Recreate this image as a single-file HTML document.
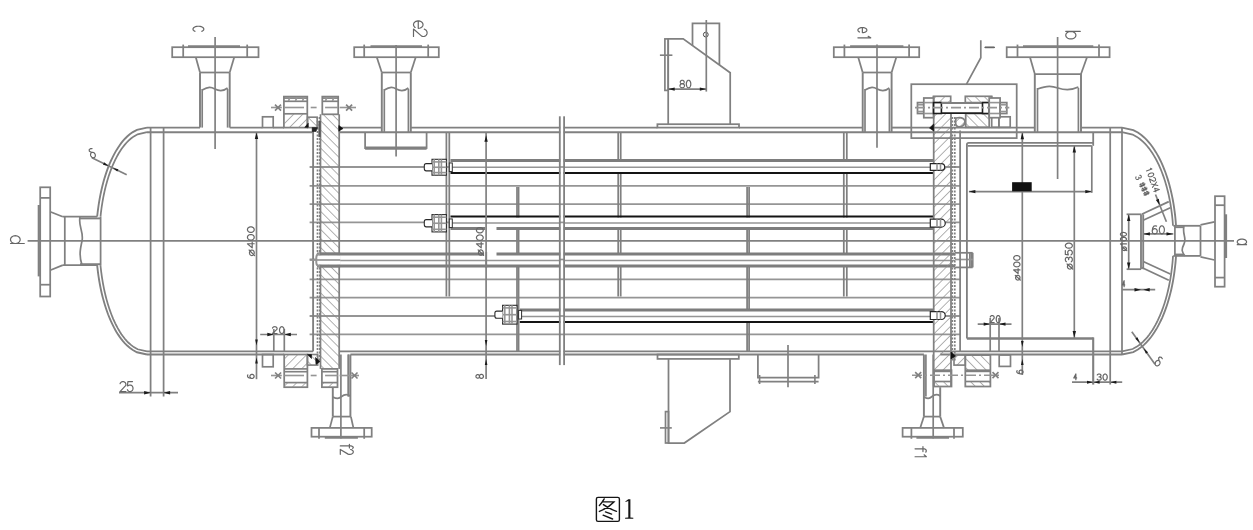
<!DOCTYPE html>
<html><head><meta charset="utf-8"><title>Figure 1</title>
<style>html,body{margin:0;padding:0;background:#fff;width:1253px;height:530px;overflow:hidden}svg{display:block}</style>
</head><body>
<svg width="1253" height="530" viewBox="0 0 1253 530" font-family="Liberation Sans, sans-serif"><defs>
<pattern id="hb" width="6.4" height="6.4" patternUnits="userSpaceOnUse" patternTransform="rotate(-45)"><line x1="0" y1="0" x2="0" y2="6.4" stroke="#8a8a8a" stroke-width="1.3"/></pattern>
<pattern id="hf" width="6.4" height="6.4" patternUnits="userSpaceOnUse" patternTransform="rotate(45)"><line x1="0" y1="0" x2="0" y2="6.4" stroke="#8a8a8a" stroke-width="1.3"/></pattern>
</defs><g><rect x="172.2" y="47.2" width="86.3" height="10" stroke="#808080" stroke-width="1.75" fill="none"/>
<line x1="183.2" y1="44.6" x2="183.2" y2="57.2" stroke="#808080" stroke-width="1.75"/>
<line x1="247.2" y1="44.6" x2="247.2" y2="57.2" stroke="#808080" stroke-width="1.75"/>
<line x1="188" y1="46.3" x2="240" y2="46.3" stroke="#808080" stroke-width="2.23"/>
<line x1="195.8" y1="57.2" x2="200" y2="72.5" stroke="#808080" stroke-width="1.75"/>
<line x1="234.2" y1="57.2" x2="229.7" y2="72.5" stroke="#808080" stroke-width="1.75"/>
<line x1="200" y1="72.5" x2="229.7" y2="72.5" stroke="#808080" stroke-width="1.75"/>
<line x1="200" y1="72.5" x2="200" y2="127.6" stroke="#808080" stroke-width="1.93"/>
<line x1="229.7" y1="72.5" x2="229.7" y2="127.6" stroke="#808080" stroke-width="1.93"/>
<line x1="202.2" y1="89" x2="202.2" y2="127.6" stroke="#808080" stroke-width="1.69"/>
<line x1="227.6" y1="89" x2="227.6" y2="127.6" stroke="#808080" stroke-width="1.69"/>
<path d="M202.2,90 C208.55,86.5 211.09,87 214.9,89 S222.52,92 227.6,88" stroke="#808080" stroke-width="1.69" fill="none"/>
<line x1="215.1" y1="37" x2="215.1" y2="148.9" stroke="#808080" stroke-width="1.69"/>
<rect x="354.2" y="47.2" width="84.6" height="10" stroke="#808080" stroke-width="1.75" fill="none"/>
<line x1="364.2" y1="44.6" x2="364.2" y2="57.2" stroke="#808080" stroke-width="1.75"/>
<line x1="428.2" y1="44.6" x2="428.2" y2="57.2" stroke="#808080" stroke-width="1.75"/>
<line x1="370.5" y1="46.3" x2="422" y2="46.3" stroke="#808080" stroke-width="2.23"/>
<line x1="376.8" y1="57.2" x2="381.8" y2="72.5" stroke="#808080" stroke-width="1.75"/>
<line x1="415.7" y1="57.2" x2="410.8" y2="72.5" stroke="#808080" stroke-width="1.75"/>
<line x1="381.8" y1="72.5" x2="410.8" y2="72.5" stroke="#808080" stroke-width="1.75"/>
<line x1="381.8" y1="72.5" x2="381.8" y2="132.2" stroke="#808080" stroke-width="1.93"/>
<line x1="410.8" y1="72.5" x2="410.8" y2="132.2" stroke="#808080" stroke-width="1.93"/>
<line x1="384.3" y1="89" x2="384.3" y2="132.2" stroke="#808080" stroke-width="1.69"/>
<line x1="408.4" y1="89" x2="408.4" y2="132.2" stroke="#808080" stroke-width="1.69"/>
<path d="M384.3,90 C390.33,86.5 392.74,87 396.35,89 S403.58,92 408.4,88" stroke="#808080" stroke-width="1.69" fill="none"/>
<line x1="396.1" y1="45" x2="396.1" y2="156.4" stroke="#808080" stroke-width="1.69"/>
<rect x="833.8" y="47.2" width="85.4" height="10" stroke="#808080" stroke-width="1.75" fill="none"/>
<line x1="844.4" y1="44.6" x2="844.4" y2="57.2" stroke="#808080" stroke-width="1.75"/>
<line x1="909.1" y1="44.6" x2="909.1" y2="57.2" stroke="#808080" stroke-width="1.75"/>
<line x1="850.1" y1="46.3" x2="903.4" y2="46.3" stroke="#808080" stroke-width="2.23"/>
<line x1="858.2" y1="57.2" x2="862.7" y2="72.5" stroke="#808080" stroke-width="1.75"/>
<line x1="896.3" y1="57.2" x2="891.6" y2="72.5" stroke="#808080" stroke-width="1.75"/>
<line x1="862.7" y1="72.5" x2="891.6" y2="72.5" stroke="#808080" stroke-width="1.75"/>
<line x1="862.7" y1="72.5" x2="862.7" y2="132.2" stroke="#808080" stroke-width="1.93"/>
<line x1="891.6" y1="72.5" x2="891.6" y2="132.2" stroke="#808080" stroke-width="1.93"/>
<line x1="865" y1="89" x2="865" y2="132.2" stroke="#808080" stroke-width="1.69"/>
<line x1="889.4" y1="89" x2="889.4" y2="132.2" stroke="#808080" stroke-width="1.69"/>
<path d="M865,90 C871.1,86.5 873.54,87 877.2,89 S884.52,92 889.4,88" stroke="#808080" stroke-width="1.69" fill="none"/>
<line x1="877" y1="44.5" x2="877" y2="147.8" stroke="#808080" stroke-width="1.69"/>
<rect x="1006.7" y="47.2" width="102.9" height="10" stroke="#808080" stroke-width="1.75" fill="none"/>
<line x1="1017.5" y1="44.6" x2="1017.5" y2="57.2" stroke="#808080" stroke-width="1.75"/>
<line x1="1099" y1="44.6" x2="1099" y2="57.2" stroke="#808080" stroke-width="1.75"/>
<line x1="1023" y1="46.3" x2="1093.3" y2="46.3" stroke="#808080" stroke-width="2.23"/>
<line x1="1030" y1="57.2" x2="1034.8" y2="74" stroke="#808080" stroke-width="1.75"/>
<line x1="1087" y1="57.2" x2="1081" y2="74" stroke="#808080" stroke-width="1.75"/>
<line x1="1034.8" y1="74" x2="1081" y2="74" stroke="#808080" stroke-width="1.75"/>
<line x1="1034.8" y1="74" x2="1034.8" y2="132.2" stroke="#808080" stroke-width="1.93"/>
<line x1="1081" y1="74" x2="1081" y2="132.2" stroke="#808080" stroke-width="1.93"/>
<line x1="1037.5" y1="88" x2="1037.5" y2="132.2" stroke="#808080" stroke-width="1.69"/>
<line x1="1078.4" y1="88" x2="1078.4" y2="132.2" stroke="#808080" stroke-width="1.69"/>
<path d="M1037.5,89 C1047.72,85.5 1051.82,86 1057.95,88 S1070.22,91 1078.4,87" stroke="#808080" stroke-width="1.69" fill="none"/>
<line x1="1057.6" y1="37" x2="1057.6" y2="179" stroke="#808080" stroke-width="1.69"/>
<line x1="365.1" y1="132.2" x2="365.1" y2="148.9" stroke="#808080" stroke-width="1.75"/>
<line x1="426.6" y1="132.2" x2="426.6" y2="148.9" stroke="#808080" stroke-width="1.75"/>
<line x1="365.1" y1="147.4" x2="426.6" y2="147.4" stroke="#808080" stroke-width="1.63"/>
<line x1="365.1" y1="148.9" x2="426.6" y2="148.9" stroke="#808080" stroke-width="1.69"/>
<rect x="311.5" y="427.9" width="60.2" height="8.8" stroke="#808080" stroke-width="1.75" fill="none"/>
<line x1="319" y1="427.9" x2="319" y2="438.8" stroke="#808080" stroke-width="1.75"/>
<line x1="364.2" y1="427.9" x2="364.2" y2="438.8" stroke="#808080" stroke-width="1.75"/>
<line x1="324.8" y1="437.6" x2="357.9" y2="437.6" stroke="#808080" stroke-width="2.11"/>
<line x1="332.8" y1="416.6" x2="329.8" y2="427.9" stroke="#808080" stroke-width="1.75"/>
<line x1="350.9" y1="416.6" x2="353.4" y2="427.9" stroke="#808080" stroke-width="1.75"/>
<line x1="332.8" y1="416.6" x2="350.9" y2="416.6" stroke="#808080" stroke-width="1.75"/>
<line x1="350.4" y1="354.5" x2="350.4" y2="416.6" stroke="#808080" stroke-width="1.93"/>
<line x1="348.4" y1="354.5" x2="348.4" y2="396.5" stroke="#808080" stroke-width="1.69"/>
<line x1="332.8" y1="387.2" x2="332.8" y2="416.6" stroke="#808080" stroke-width="1.93"/>
<path d="M332.8,397 C336.8,399 338.6,399 341.6,396.5 S347.4,394 350.4,396" stroke="#808080" stroke-width="1.69" fill="none"/>
<line x1="340.9" y1="354.5" x2="340.9" y2="438.5" stroke="#808080" stroke-width="1.69"/>
<rect x="902.6" y="427.9" width="60.2" height="8.8" stroke="#808080" stroke-width="1.75" fill="none"/>
<line x1="911.4" y1="427.9" x2="911.4" y2="438.8" stroke="#808080" stroke-width="1.75"/>
<line x1="954" y1="427.9" x2="954" y2="438.8" stroke="#808080" stroke-width="1.75"/>
<line x1="916.4" y1="437.6" x2="949" y2="437.6" stroke="#808080" stroke-width="2.11"/>
<line x1="923.9" y1="416.6" x2="920.2" y2="427.9" stroke="#808080" stroke-width="1.75"/>
<line x1="940.2" y1="416.6" x2="944" y2="427.9" stroke="#808080" stroke-width="1.75"/>
<line x1="923.9" y1="416.6" x2="940.2" y2="416.6" stroke="#808080" stroke-width="1.75"/>
<line x1="923.9" y1="354.5" x2="923.9" y2="416.6" stroke="#808080" stroke-width="1.93"/>
<line x1="925.9" y1="354.5" x2="925.9" y2="396.5" stroke="#808080" stroke-width="1.69"/>
<line x1="940.2" y1="387.2" x2="940.2" y2="416.6" stroke="#808080" stroke-width="1.93"/>
<path d="M923.9,397 C927.9,399 929.05,399 932.05,396.5 S937.2,394 940.2,396" stroke="#808080" stroke-width="1.69" fill="none"/>
<line x1="933.2" y1="354.5" x2="933.2" y2="438.5" stroke="#808080" stroke-width="1.69"/>
<line x1="348.4" y1="354.5" x2="348.4" y2="396.5" stroke="#808080" stroke-width="1.69"/>
<line x1="147" y1="127.6" x2="200" y2="127.6" stroke="#808080" stroke-width="1.87"/>
<line x1="229.7" y1="127.6" x2="262.4" y2="127.6" stroke="#808080" stroke-width="1.87"/>
<line x1="273.3" y1="127.6" x2="283.9" y2="127.6" stroke="#808080" stroke-width="1.87"/>
<line x1="338.2" y1="127.6" x2="381.8" y2="127.6" stroke="#808080" stroke-width="1.87"/>
<line x1="410.8" y1="127.6" x2="657.4" y2="127.6" stroke="#808080" stroke-width="1.87"/>
<line x1="739" y1="127.6" x2="862.7" y2="127.6" stroke="#808080" stroke-width="1.87"/>
<line x1="891.6" y1="127.6" x2="911.3" y2="127.6" stroke="#808080" stroke-width="1.87"/>
<line x1="911.3" y1="127.6" x2="1034.8" y2="127.6" stroke="#808080" stroke-width="1.87"/>
<line x1="1081" y1="127.6" x2="1122" y2="127.6" stroke="#808080" stroke-width="1.87"/>
<line x1="147" y1="132.2" x2="313" y2="132.2" stroke="#808080" stroke-width="1.87"/>
<line x1="339.2" y1="132.2" x2="1122" y2="132.2" stroke="#808080" stroke-width="1.87"/>
<line x1="147" y1="351.4" x2="313" y2="351.4" stroke="#808080" stroke-width="1.87"/>
<line x1="339.2" y1="351.4" x2="960.1" y2="351.4" stroke="#808080" stroke-width="1.87"/>
<line x1="960.1" y1="351.4" x2="1122" y2="351.4" stroke="#808080" stroke-width="1.87"/>
<line x1="147" y1="354.5" x2="284.2" y2="354.5" stroke="#808080" stroke-width="1.87"/>
<line x1="350.4" y1="354.5" x2="923.9" y2="354.5" stroke="#808080" stroke-width="1.87"/>
<line x1="940.2" y1="354.5" x2="1122" y2="354.5" stroke="#808080" stroke-width="1.87"/>
<path d="M147,127.6 L136.94,129.83 L132.84,132.06 L129.74,134.28 L127.18,136.51 L124.95,138.74 L122.97,140.97 L121.18,143.19 L119.54,145.42 L118.03,147.65 L116.63,149.88 L115.32,152.1 L114.1,154.33 L112.95,156.56 L111.86,158.78 L110.84,161.01 L109.87,163.24 L108.95,165.47 L108.07,167.69 L107.25,169.92 L106.46,172.15 L105.72,174.38 L105.01,176.6 L104.33,178.83 L103.69,181.06 L103.09,183.29 L102.51,185.51 L101.96,187.74 L101.44,189.97 L100.95,192.2 L100.49,194.43 L100.05,196.65 L99.64,198.88 L99.25,201.11 L98.88,203.33 L98.54,205.56 L98.23,207.79 L97.93,210.02 L97.66,212.25 L97.41,214.47 L97.18,216.7" stroke="#808080" stroke-width="1.87" fill="none"/>
<path d="M147,132.2 L137.64,134.31 L133.83,136.42 L130.95,138.54 L128.56,140.65 L126.49,142.76 L124.65,144.88 L122.98,146.99 L121.46,149.1 L120.05,151.21 L118.74,153.32 L117.52,155.44 L116.38,157.55 L115.31,159.66 L114.29,161.77 L113.34,163.89 L112.43,166 L111.57,168.11 L110.76,170.22 L109.99,172.34 L109.25,174.45 L108.55,176.56 L107.89,178.67 L107.26,180.79 L106.66,182.9 L106.09,185.01 L105.55,187.12 L105.03,189.24 L104.54,191.35 L104.08,193.46 L103.64,195.57 L103.23,197.69 L102.84,199.8 L102.47,201.91 L102.13,204.02 L101.8,206.14 L101.5,208.25 L101.22,210.36 L100.96,212.47 L100.72,214.59 L100.5,216.7" stroke="#808080" stroke-width="1.75" fill="none"/>
<path d="M147,354.5 L136.93,352.26 L132.83,350.03 L129.74,347.8 L127.17,345.56 L124.94,343.32 L122.96,341.09 L121.17,338.86 L119.53,336.62 L118.02,334.38 L116.62,332.15 L115.31,329.92 L114.09,327.68 L112.94,325.44 L111.85,323.21 L110.82,320.98 L109.85,318.74 L108.94,316.5 L108.06,314.27 L107.24,312.04 L106.45,309.8 L105.71,307.56 L105,305.33 L104.32,303.1 L103.68,300.86 L103.08,298.62 L102.5,296.39 L101.95,294.16 L101.43,291.92 L100.94,289.69 L100.48,287.45 L100.04,285.22 L99.63,282.98 L99.24,280.75 L98.88,278.51 L98.54,276.28 L98.22,274.04 L97.92,271.81 L97.65,269.57 L97.4,267.34 L97.17,265.1" stroke="#808080" stroke-width="1.87" fill="none"/>
<path d="M147,351.4 L137.62,349.24 L133.8,347.08 L130.91,344.93 L128.52,342.77 L126.44,340.61 L124.6,338.45 L122.93,336.3 L121.4,334.14 L119.99,331.98 L118.68,329.82 L117.46,327.67 L116.32,325.51 L115.24,323.35 L114.23,321.19 L113.27,319.04 L112.37,316.88 L111.51,314.72 L110.69,312.56 L109.92,310.41 L109.18,308.25 L108.49,306.09 L107.82,303.94 L107.19,301.78 L106.59,299.62 L106.02,297.46 L105.48,295.31 L104.97,293.15 L104.48,290.99 L104.02,288.83 L103.59,286.68 L103.17,284.52 L102.78,282.36 L102.42,280.2 L102.08,278.05 L101.75,275.89 L101.45,273.73 L101.17,271.57 L100.92,269.42 L100.68,267.26 L100.46,265.1" stroke="#808080" stroke-width="1.75" fill="none"/>
<path d="M1122,127.6 L1133.28,130.06 L1137.87,132.51 L1141.33,134.97 L1144.19,137.42 L1146.67,139.88 L1148.87,142.33 L1150.86,144.78 L1152.67,147.24 L1154.33,149.69 L1155.88,152.15 L1157.32,154.6 L1158.66,157.06 L1159.92,159.51 L1161.1,161.97 L1162.21,164.43 L1163.26,166.88 L1164.25,169.34 L1165.19,171.79 L1166.07,174.25 L1166.91,176.7 L1167.7,179.16 L1168.44,181.61 L1169.15,184.06 L1169.81,186.52 L1170.44,188.98 L1171.03,191.43 L1171.59,193.88 L1172.11,196.34 L1172.6,198.8 L1173.05,201.25 L1173.48,203.71 L1173.87,206.16 L1174.24,208.62 L1174.58,211.07 L1174.89,213.53 L1175.17,215.98 L1175.42,218.44 L1175.64,220.89 L1175.84,223.35 L1176.01,225.8" stroke="#808080" stroke-width="1.87" fill="none"/>
<path d="M1122,132.2 L1132.63,134.54 L1136.95,136.88 L1140.21,139.22 L1142.91,141.56 L1145.24,143.9 L1147.32,146.24 L1149.19,148.58 L1150.89,150.92 L1152.47,153.26 L1153.92,155.6 L1155.28,157.94 L1156.54,160.28 L1157.73,162.62 L1158.85,164.96 L1159.9,167.3 L1160.89,169.64 L1161.83,171.98 L1162.71,174.32 L1163.54,176.66 L1164.33,179 L1165.08,181.34 L1165.79,183.68 L1166.45,186.02 L1167.08,188.36 L1167.68,190.7 L1168.24,193.04 L1168.77,195.38 L1169.26,197.72 L1169.73,200.06 L1170.16,202.4 L1170.57,204.74 L1170.94,207.08 L1171.29,209.42 L1171.61,211.76 L1171.91,214.1 L1172.18,216.44 L1172.42,218.78 L1172.64,221.12 L1172.83,223.46 L1173,225.8" stroke="#808080" stroke-width="1.75" fill="none"/>
<path d="M1122,354.5 L1133.29,352.04 L1137.88,349.57 L1141.34,347.11 L1144.21,344.64 L1146.69,342.18 L1148.89,339.71 L1150.88,337.25 L1152.69,334.78 L1154.35,332.31 L1155.9,329.85 L1157.34,327.38 L1158.68,324.92 L1159.94,322.45 L1161.12,319.99 L1162.24,317.52 L1163.28,315.06 L1164.27,312.6 L1165.21,310.13 L1166.09,307.67 L1166.93,305.2 L1167.72,302.74 L1168.46,300.27 L1169.17,297.81 L1169.83,295.34 L1170.46,292.88 L1171.05,290.41 L1171.61,287.94 L1172.13,285.48 L1172.62,283.01 L1173.07,280.55 L1173.5,278.09 L1173.89,275.62 L1174.26,273.15 L1174.59,270.69 L1174.9,268.23 L1175.18,265.76 L1175.43,263.3 L1175.65,260.83 L1175.85,258.37 L1176.02,255.9" stroke="#808080" stroke-width="1.87" fill="none"/>
<path d="M1122,351.4 L1132.65,349.01 L1136.98,346.62 L1140.24,344.24 L1142.94,341.85 L1145.28,339.46 L1147.36,337.07 L1149.23,334.69 L1150.94,332.3 L1152.52,329.91 L1153.97,327.52 L1155.33,325.14 L1156.6,322.75 L1157.79,320.36 L1158.9,317.97 L1159.95,315.59 L1160.95,313.2 L1161.88,310.81 L1162.77,308.43 L1163.6,306.04 L1164.39,303.65 L1165.14,301.26 L1165.84,298.88 L1166.51,296.49 L1167.14,294.1 L1167.73,291.71 L1168.29,289.32 L1168.82,286.94 L1169.31,284.55 L1169.77,282.16 L1170.21,279.77 L1170.61,277.39 L1170.99,275 L1171.33,272.61 L1171.65,270.23 L1171.95,267.84 L1172.21,265.45 L1172.45,263.06 L1172.67,260.68 L1172.86,258.29 L1173.02,255.9" stroke="#808080" stroke-width="1.75" fill="none"/>
<line x1="150.6" y1="127.6" x2="150.6" y2="396.5" stroke="#808080" stroke-width="1.75"/>
<line x1="163.6" y1="127.6" x2="163.6" y2="396.5" stroke="#808080" stroke-width="1.75"/>
<line x1="1110.2" y1="127.6" x2="1110.2" y2="384.5" stroke="#808080" stroke-width="1.75"/>
<line x1="1122" y1="127.6" x2="1122" y2="354.5" stroke="#808080" stroke-width="1.75"/>
<line x1="27.6" y1="240.9" x2="1234" y2="240.9" stroke="#808080" stroke-width="1.69"/>
<rect x="40.2" y="187.3" width="10" height="109.2" stroke="#808080" stroke-width="1.75" fill="none"/>
<line x1="40.2" y1="197.9" x2="50.2" y2="197.9" stroke="#808080" stroke-width="1.75"/>
<line x1="40.2" y1="284.7" x2="50.2" y2="284.7" stroke="#808080" stroke-width="1.75"/>
<line x1="38.8" y1="205" x2="38.8" y2="276.4" stroke="#808080" stroke-width="2.23"/>
<line x1="50.2" y1="211.7" x2="62.8" y2="216.7" stroke="#808080" stroke-width="1.75"/>
<line x1="50.2" y1="270.2" x2="62.8" y2="265.1" stroke="#808080" stroke-width="1.75"/>
<line x1="62.8" y1="216.7" x2="97" y2="216.7" stroke="#808080" stroke-width="1.81"/>
<line x1="62.8" y1="265.1" x2="97" y2="265.1" stroke="#808080" stroke-width="1.81"/>
<line x1="64.8" y1="216.7" x2="64.8" y2="265.1" stroke="#808080" stroke-width="1.75"/>
<line x1="100.6" y1="216.7" x2="100.6" y2="265.1" stroke="#808080" stroke-width="1.75"/>
<line x1="80" y1="218.4" x2="100.6" y2="218.4" stroke="#808080" stroke-width="1.93"/>
<line x1="80" y1="264.2" x2="100.6" y2="264.2" stroke="#808080" stroke-width="1.93"/>
<path d="M80,217 C78,226 84,232 82,241 S79,256 82,265" stroke="#808080" stroke-width="1.69" fill="none"/>
<rect x="1215" y="196.2" width="9.6" height="90.5" stroke="#808080" stroke-width="1.75" fill="none"/>
<line x1="1215" y1="205.2" x2="1224.6" y2="205.2" stroke="#808080" stroke-width="1.75"/>
<line x1="1215" y1="277.6" x2="1224.6" y2="277.6" stroke="#808080" stroke-width="1.75"/>
<line x1="1226" y1="214.3" x2="1226" y2="258" stroke="#808080" stroke-width="2.23"/>
<line x1="1200.5" y1="224.9" x2="1214.5" y2="221.8" stroke="#808080" stroke-width="1.75"/>
<line x1="1200.5" y1="256.9" x2="1214.5" y2="260" stroke="#808080" stroke-width="1.75"/>
<line x1="1173.3" y1="225.8" x2="1200.5" y2="225.8" stroke="#808080" stroke-width="1.81"/>
<line x1="1173.3" y1="255.9" x2="1200.5" y2="255.9" stroke="#808080" stroke-width="1.81"/>
<line x1="1200.5" y1="225.8" x2="1200.5" y2="255.9" stroke="#808080" stroke-width="1.75"/>
<line x1="1174.9" y1="225.8" x2="1174.9" y2="255.9" stroke="#808080" stroke-width="1.75"/>
<line x1="1174.9" y1="227.2" x2="1184" y2="227.2" stroke="#808080" stroke-width="1.87"/>
<line x1="1174.9" y1="254.5" x2="1184" y2="254.5" stroke="#808080" stroke-width="1.87"/>
<path d="M1184,226 C1182,234 1187,238 1184,244 S1182,252 1185,256" stroke="#808080" stroke-width="1.69" fill="none"/>
<line x1="309.6" y1="167" x2="960.5" y2="167" stroke="#959595" stroke-width="1.81"/>
<line x1="309.6" y1="185.8" x2="960.5" y2="185.8" stroke="#959595" stroke-width="1.81"/>
<line x1="309.6" y1="204.2" x2="960.5" y2="204.2" stroke="#959595" stroke-width="1.81"/>
<line x1="309.6" y1="222.4" x2="960.5" y2="222.4" stroke="#959595" stroke-width="1.81"/>
<line x1="309.6" y1="259.5" x2="960.5" y2="259.5" stroke="#959595" stroke-width="1.81"/>
<line x1="309.6" y1="279.3" x2="960.5" y2="279.3" stroke="#959595" stroke-width="1.81"/>
<line x1="309.6" y1="297.7" x2="960.5" y2="297.7" stroke="#959595" stroke-width="1.81"/>
<line x1="309.6" y1="316" x2="960.5" y2="316" stroke="#959595" stroke-width="1.81"/>
<line x1="309.6" y1="334.4" x2="960.5" y2="334.4" stroke="#959595" stroke-width="1.81"/>
<line x1="446.4" y1="132.2" x2="446.4" y2="296.5" stroke="#808080" stroke-width="1.75"/>
<line x1="449.3" y1="132.2" x2="449.3" y2="296.5" stroke="#808080" stroke-width="1.75"/>
<line x1="517" y1="187" x2="517" y2="351.4" stroke="#808080" stroke-width="1.75"/>
<line x1="518.6" y1="187" x2="518.6" y2="351.4" stroke="#808080" stroke-width="1.75"/>
<line x1="618.2" y1="132.2" x2="618.2" y2="296.5" stroke="#808080" stroke-width="1.75"/>
<line x1="620.7" y1="132.2" x2="620.7" y2="296.5" stroke="#808080" stroke-width="1.75"/>
<line x1="747.1" y1="187" x2="747.1" y2="351.4" stroke="#808080" stroke-width="1.75"/>
<line x1="749.1" y1="187" x2="749.1" y2="351.4" stroke="#808080" stroke-width="1.75"/>
<line x1="843.8" y1="132.2" x2="843.8" y2="296.5" stroke="#808080" stroke-width="1.75"/>
<line x1="846.8" y1="132.2" x2="846.8" y2="296.5" stroke="#808080" stroke-width="1.75"/>
<rect x="450.5" y="161.5" width="483.2" height="10.5" fill="#fff"/>
<line x1="450.5" y1="160.5" x2="933.7" y2="160.5" stroke="#7d7d7d" stroke-width="2.8"/>
<line x1="450.5" y1="173" x2="933.7" y2="173" stroke="#141414" stroke-width="2"/>
<line x1="450.5" y1="167.25" x2="933.7" y2="167.25" stroke="#959595" stroke-width="1.69"/>
<rect x="450.5" y="217.5" width="483.2" height="10" fill="#fff"/>
<line x1="450.5" y1="216.5" x2="933.7" y2="216.5" stroke="#141414" stroke-width="2"/>
<line x1="450.5" y1="228.5" x2="485.2" y2="228.5" stroke="#7d7d7d" stroke-width="2.8"/>
<line x1="496.5" y1="228.5" x2="933.7" y2="228.5" stroke="#7d7d7d" stroke-width="2.8"/>
<line x1="450.5" y1="223" x2="933.7" y2="223" stroke="#959595" stroke-width="1.69"/>
<rect x="519.8" y="311" width="413.9" height="10" fill="#fff"/>
<line x1="519.8" y1="310" x2="933.7" y2="310" stroke="#7d7d7d" stroke-width="2.8"/>
<line x1="519.8" y1="322" x2="933.7" y2="322" stroke="#141414" stroke-width="2"/>
<line x1="519.8" y1="316.5" x2="933.7" y2="316.5" stroke="#959595" stroke-width="1.69"/>
<rect x="317" y="255" width="638" height="10" fill="#fff"/>
<line x1="317" y1="254" x2="484.1" y2="254" stroke="#7d7d7d" stroke-width="2.8"/>
<line x1="496.5" y1="254" x2="955" y2="254" stroke="#7d7d7d" stroke-width="2.8"/>
<line x1="317" y1="266" x2="955" y2="266" stroke="#7d7d7d" stroke-width="2.8"/>
<line x1="317" y1="260.5" x2="955" y2="260.5" stroke="#959595" stroke-width="1.69"/>
<line x1="446.4" y1="253" x2="446.4" y2="267" stroke="#808080" stroke-width="1.75"/>
<line x1="449.3" y1="253" x2="449.3" y2="267" stroke="#808080" stroke-width="1.75"/>
<line x1="486.3" y1="252" x2="486.3" y2="268" stroke="#808080" stroke-width="1.69"/>
<rect x="955" y="252.8" width="17.7" height="14.6" fill="#fff"/>
<line x1="955" y1="252.8" x2="972.7" y2="252.8" stroke="#808080" stroke-width="1.75"/>
<line x1="955" y1="267.4" x2="972.7" y2="267.4" stroke="#808080" stroke-width="1.75"/>
<line x1="972.7" y1="252.8" x2="972.7" y2="267.4" stroke="#808080" stroke-width="1.75"/>
<line x1="969.8" y1="253" x2="969.8" y2="267" stroke="#808080" stroke-width="1.63"/>
<line x1="971.2" y1="253" x2="971.2" y2="267" stroke="#808080" stroke-width="1.63"/>
<line x1="955" y1="259.5" x2="972.7" y2="259.5" stroke="#959595" stroke-width="1.63"/>
<rect x="560.3" y="116.5" width="3.3" height="248.5" fill="#fff"/>
<line x1="559.8" y1="167" x2="564.1" y2="167" stroke="#959595" stroke-width="1.69"/>
<line x1="559.8" y1="185.8" x2="564.1" y2="185.8" stroke="#959595" stroke-width="1.69"/>
<line x1="559.8" y1="204.2" x2="564.1" y2="204.2" stroke="#959595" stroke-width="1.69"/>
<line x1="559.8" y1="222.4" x2="564.1" y2="222.4" stroke="#959595" stroke-width="1.69"/>
<line x1="559.8" y1="259.5" x2="564.1" y2="259.5" stroke="#959595" stroke-width="1.69"/>
<line x1="559.8" y1="279.3" x2="564.1" y2="279.3" stroke="#959595" stroke-width="1.69"/>
<line x1="559.8" y1="297.7" x2="564.1" y2="297.7" stroke="#959595" stroke-width="1.69"/>
<line x1="559.8" y1="316" x2="564.1" y2="316" stroke="#959595" stroke-width="1.69"/>
<line x1="559.8" y1="334.4" x2="564.1" y2="334.4" stroke="#959595" stroke-width="1.69"/>
<line x1="559.8" y1="240.9" x2="564.1" y2="240.9" stroke="#959595" stroke-width="1.69"/>
<line x1="559.8" y1="116.3" x2="559.8" y2="365.1" stroke="#808080" stroke-width="1.81"/>
<line x1="564.1" y1="116.3" x2="564.1" y2="365.1" stroke="#808080" stroke-width="1.81"/>
<rect x="424.4" y="159.3" width="22" height="15.9" fill="#fff"/>
<rect x="432" y="159.3" width="14.4" height="15.9" stroke="#2a2a2a" stroke-width="1.1" fill="none"/>
<line x1="434.2" y1="159.3" x2="434.2" y2="175.2" stroke="#959595" stroke-width="1.57"/>
<line x1="438.8" y1="159.3" x2="438.8" y2="175.2" stroke="#959595" stroke-width="1.57"/>
<line x1="441.4" y1="159.3" x2="441.4" y2="175.2" stroke="#959595" stroke-width="1.57"/>
<line x1="432" y1="161.9" x2="446.4" y2="161.9" stroke="#959595" stroke-width="1.57"/>
<line x1="432" y1="172.6" x2="446.4" y2="172.6" stroke="#959595" stroke-width="1.57"/>
<line x1="432" y1="167.25" x2="446.4" y2="167.25" stroke="#959595" stroke-width="1.63"/>
<path d="M432,163.65 L426.2,163.65 Q424.3,163.65 424.3,165.65 L424.3,168.85 Q424.3,170.85 426.2,170.85 L432,170.85" stroke="#2a2a2a" stroke-width="1.1" fill="#fff"/>
<rect x="449.3" y="162.95" width="3" height="8.6" fill="#fff"/>
<rect x="449.3" y="162.95" width="3" height="8.6" stroke="#2e2e2e" stroke-width="1" fill="none"/>
<rect x="424.4" y="214.6" width="22" height="17.3" fill="#fff"/>
<rect x="432" y="214.6" width="14.4" height="17.3" stroke="#2a2a2a" stroke-width="1.1" fill="none"/>
<line x1="434.2" y1="214.6" x2="434.2" y2="231.9" stroke="#959595" stroke-width="1.57"/>
<line x1="438.8" y1="214.6" x2="438.8" y2="231.9" stroke="#959595" stroke-width="1.57"/>
<line x1="441.4" y1="214.6" x2="441.4" y2="231.9" stroke="#959595" stroke-width="1.57"/>
<line x1="432" y1="217.2" x2="446.4" y2="217.2" stroke="#959595" stroke-width="1.57"/>
<line x1="432" y1="229.3" x2="446.4" y2="229.3" stroke="#959595" stroke-width="1.57"/>
<line x1="432" y1="223.25" x2="446.4" y2="223.25" stroke="#959595" stroke-width="1.63"/>
<path d="M432,219.65 L426.2,219.65 Q424.3,219.65 424.3,221.65 L424.3,224.85 Q424.3,226.85 426.2,226.85 L432,226.85" stroke="#2a2a2a" stroke-width="1.1" fill="#fff"/>
<rect x="449.3" y="218.95" width="3" height="8.6" fill="#fff"/>
<rect x="449.3" y="218.95" width="3" height="8.6" stroke="#2e2e2e" stroke-width="1" fill="none"/>
<rect x="495" y="305.3" width="22" height="18.8" fill="#fff"/>
<rect x="502.6" y="305.3" width="14.4" height="18.8" stroke="#2a2a2a" stroke-width="1.1" fill="none"/>
<line x1="504.8" y1="305.3" x2="504.8" y2="324.1" stroke="#959595" stroke-width="1.57"/>
<line x1="509.4" y1="305.3" x2="509.4" y2="324.1" stroke="#959595" stroke-width="1.57"/>
<line x1="512" y1="305.3" x2="512" y2="324.1" stroke="#959595" stroke-width="1.57"/>
<line x1="502.6" y1="307.9" x2="517" y2="307.9" stroke="#959595" stroke-width="1.57"/>
<line x1="502.6" y1="321.5" x2="517" y2="321.5" stroke="#959595" stroke-width="1.57"/>
<line x1="502.6" y1="314.7" x2="517" y2="314.7" stroke="#959595" stroke-width="1.63"/>
<path d="M502.6,311.1 L496.8,311.1 Q494.9,311.1 494.9,313.1 L494.9,316.3 Q494.9,318.3 496.8,318.3 L502.6,318.3" stroke="#2a2a2a" stroke-width="1.1" fill="#fff"/>
<rect x="518.6" y="310.4" width="3" height="8.6" fill="#fff"/>
<rect x="518.6" y="310.4" width="3" height="8.6" stroke="#2e2e2e" stroke-width="1" fill="none"/>
<rect x="320.5" y="114.3" width="18.7" height="254.6" fill="url(#hb)"/>
<line x1="339.2" y1="114.3" x2="339.2" y2="368.9" stroke="#808080" stroke-width="1.75"/>
<line x1="320.5" y1="114.3" x2="320.5" y2="368.9" stroke="#808080" stroke-width="1.69"/>
<line x1="313.1" y1="127.6" x2="313.1" y2="351.4" stroke="#808080" stroke-width="1.87"/>
<line x1="317.5" y1="117" x2="317.5" y2="362" stroke="#808080" stroke-width="1.69" stroke-dasharray="2,1.5"/>
<line x1="319.8" y1="117" x2="319.8" y2="362" stroke="#808080" stroke-width="1.69" stroke-dasharray="2,1.5"/>
<rect x="283.9" y="96.6" width="23.4" height="31" stroke="#808080" stroke-width="1.75" fill="none"/>
<line x1="283.9" y1="98.1" x2="307.3" y2="98.1" stroke="#808080" stroke-width="1.63"/>
<line x1="283.9" y1="101.3" x2="307.3" y2="101.3" stroke="#808080" stroke-width="1.69"/>
<line x1="283.9" y1="113.8" x2="307.3" y2="113.8" stroke="#808080" stroke-width="1.69"/>
<rect x="283.9" y="113.8" width="23.4" height="13.8" fill="url(#hf)"/>
<rect x="322.3" y="96.6" width="15.9" height="17.7" stroke="#808080" stroke-width="1.75" fill="none"/>
<line x1="322.3" y1="98.1" x2="338.2" y2="98.1" stroke="#808080" stroke-width="1.63"/>
<line x1="322.3" y1="101.3" x2="338.2" y2="101.3" stroke="#808080" stroke-width="1.69"/>
<line x1="290" y1="97" x2="288.5" y2="101" stroke="#959595" stroke-width="1.63"/>
<line x1="297" y1="97" x2="295.5" y2="101" stroke="#959595" stroke-width="1.63"/>
<line x1="304" y1="97" x2="302.5" y2="101" stroke="#959595" stroke-width="1.63"/>
<line x1="327" y1="97" x2="325.5" y2="101" stroke="#959595" stroke-width="1.63"/>
<line x1="334" y1="97" x2="332.5" y2="101" stroke="#959595" stroke-width="1.63"/>
<rect x="307.6" y="117.2" width="9.6" height="10.4" fill="url(#hb)"/>
<rect x="307.6" y="117.2" width="9.6" height="10.4" stroke="#808080" stroke-width="1.63" fill="none"/>
<rect x="284.2" y="354.5" width="23.2" height="32.7" stroke="#808080" stroke-width="1.75" fill="none"/>
<rect x="284.2" y="354.5" width="23.2" height="14.4" fill="url(#hf)"/>
<line x1="284.2" y1="368.9" x2="307.4" y2="368.9" stroke="#808080" stroke-width="1.69"/>
<line x1="284.2" y1="371.7" x2="307.4" y2="371.7" stroke="#808080" stroke-width="1.63"/>
<line x1="284.2" y1="382.6" x2="307.4" y2="382.6" stroke="#808080" stroke-width="1.69"/>
<rect x="284.2" y="382.6" width="23.2" height="4.6" fill="url(#hf)"/>
<rect x="321.9" y="368.9" width="15.6" height="18.3" stroke="#808080" stroke-width="1.75" fill="none"/>
<line x1="321.9" y1="371.7" x2="337.5" y2="371.7" stroke="#808080" stroke-width="1.63"/>
<line x1="321.9" y1="382.6" x2="337.5" y2="382.6" stroke="#808080" stroke-width="1.69"/>
<rect x="321.9" y="382.6" width="15.6" height="4.6" fill="url(#hf)"/>
<rect x="307.4" y="354.5" width="10.3" height="10.6" fill="url(#hb)"/>
<rect x="307.4" y="354.5" width="10.3" height="10.6" stroke="#808080" stroke-width="1.63" fill="none"/>
<path d="M304.8,127.3 L308.2,123.2 L308.2,127.3 Z" stroke="#111" stroke-width="0.6" fill="#111"/>
<path d="M312.2,127.6 L317.5,127.6 L316,131.5 L312.2,131.5 Z" stroke="#222" stroke-width="0.6" fill="#222"/>
<line x1="319.5" y1="121" x2="319.5" y2="137" stroke="#555555" stroke-width="2.2"/>
<path d="M307.5,354.6 L311.5,358.5 L311.5,354.6 Z" stroke="#111" stroke-width="0.6" fill="#111"/>
<path d="M315.5,357.5 L320,361.5 L316,364.5 Z" stroke="#111" stroke-width="0.6" fill="#111"/>
<path d="M338.8,125.4 L343,128.6 L338.8,131.2 Z" stroke="#111" stroke-width="0.6" fill="#111"/>
<line x1="271" y1="107.5" x2="281.8" y2="107.5" stroke="#959595" stroke-width="1.63"/>
<line x1="284.3" y1="107.5" x2="304" y2="107.5" stroke="#959595" stroke-width="1.63"/>
<line x1="310.7" y1="107.5" x2="316.6" y2="107.5" stroke="#959595" stroke-width="1.63"/>
<line x1="325.1" y1="107.5" x2="338" y2="107.5" stroke="#959595" stroke-width="1.63"/>
<line x1="339.6" y1="107.5" x2="356" y2="107.5" stroke="#959595" stroke-width="1.63"/>
<line x1="271" y1="375.5" x2="281.8" y2="375.5" stroke="#959595" stroke-width="1.63"/>
<line x1="284.3" y1="375.5" x2="304" y2="375.5" stroke="#959595" stroke-width="1.63"/>
<line x1="310.7" y1="375.5" x2="316.6" y2="375.5" stroke="#959595" stroke-width="1.63"/>
<line x1="325.1" y1="375.5" x2="338" y2="375.5" stroke="#959595" stroke-width="1.63"/>
<line x1="339.6" y1="375.5" x2="359" y2="375.5" stroke="#959595" stroke-width="1.63"/>
<line x1="275" y1="104.6" x2="281" y2="110.6" stroke="#808080" stroke-width="1.63"/>
<line x1="275" y1="110.6" x2="281" y2="104.6" stroke="#808080" stroke-width="1.63"/>
<line x1="346.1" y1="104.6" x2="352.1" y2="110.6" stroke="#808080" stroke-width="1.63"/>
<line x1="346.1" y1="110.6" x2="352.1" y2="104.6" stroke="#808080" stroke-width="1.63"/>
<line x1="275.1" y1="372.5" x2="281.1" y2="378.5" stroke="#808080" stroke-width="1.63"/>
<line x1="275.1" y1="378.5" x2="281.1" y2="372.5" stroke="#808080" stroke-width="1.63"/>
<line x1="351.5" y1="372.5" x2="357.5" y2="378.5" stroke="#808080" stroke-width="1.63"/>
<line x1="351.5" y1="378.5" x2="357.5" y2="372.5" stroke="#808080" stroke-width="1.63"/>
<rect x="262.5" y="116.8" width="10.7" height="10.8" stroke="#808080" stroke-width="1.69" fill="none"/>
<rect x="262.5" y="354.5" width="10.7" height="12.3" stroke="#808080" stroke-width="1.69" fill="none"/>
<rect x="316.6" y="255.3" width="23.6" height="9.4" fill="#fff"/>
<line x1="319" y1="254" x2="340.2" y2="254" stroke="#7d7d7d" stroke-width="2.8"/>
<line x1="319" y1="266" x2="340.2" y2="266" stroke="#7d7d7d" stroke-width="2.8"/>
<line x1="309.8" y1="260" x2="340.2" y2="260" stroke="#959595" stroke-width="1.69"/>
<path d="M320,254.0 Q316.3,254.0 316.3,257.5 L316.3,262.5 Q316.3,266.0 320,266.0" stroke="#959595" stroke-width="1.99" fill="none"/>
<rect x="933.7" y="114" width="17.3" height="256.2" fill="url(#hf)"/>
<line x1="933.7" y1="114" x2="933.7" y2="386.5" stroke="#808080" stroke-width="1.75"/>
<line x1="951" y1="114" x2="951" y2="386.5" stroke="#808080" stroke-width="1.75"/>
<line x1="952.3" y1="117" x2="952.3" y2="362" stroke="#808080" stroke-width="1.69" stroke-dasharray="2,1.5"/>
<line x1="954.8" y1="117" x2="954.8" y2="362" stroke="#808080" stroke-width="1.69" stroke-dasharray="2,1.5"/>
<line x1="960.1" y1="130.6" x2="960.1" y2="351.4" stroke="#808080" stroke-width="1.75"/>
<rect x="933.5" y="96.3" width="17.2" height="6.3" stroke="#808080" stroke-width="1.69" fill="none"/>
<rect x="933.5" y="96.3" width="17.2" height="6.3" fill="url(#hf)"/>
<rect x="965.3" y="96.3" width="26.4" height="6.3" stroke="#808080" stroke-width="1.69" fill="none"/>
<rect x="965.3" y="96.3" width="26.4" height="6.3" fill="url(#hb)"/>
<line x1="933.5" y1="96.3" x2="933.5" y2="114" stroke="#808080" stroke-width="1.75"/>
<line x1="950.7" y1="102.6" x2="950.7" y2="114" stroke="#808080" stroke-width="1.69"/>
<rect x="965.7" y="113.5" width="23.5" height="13.8" stroke="#808080" stroke-width="1.75" fill="none"/>
<rect x="965.7" y="113.5" width="23.5" height="13.8" fill="url(#hb)"/>
<line x1="965.5" y1="102.6" x2="965.5" y2="113.5" stroke="#808080" stroke-width="1.69"/>
<line x1="991.7" y1="96.3" x2="991.7" y2="118.5" stroke="#808080" stroke-width="1.69"/>
<path d="M956,118 Q963.5,116.5 964.9,121 Q965.3,126.9 958.5,126.9 Q954.3,126 956,118 Z" stroke="#808080" stroke-width="1.75" fill="url(#hf)"/>
<rect x="991.7" y="116.8" width="7.2" height="10.5" stroke="#808080" stroke-width="1.69" fill="none"/>
<rect x="998.9" y="116.8" width="11.3" height="10.5" stroke="#808080" stroke-width="1.69" fill="none"/>
<rect x="917.5" y="102.6" width="89.3" height="10.9" fill="#fff"/>
<rect x="917.5" y="102.6" width="6.3" height="10.9" stroke="#808080" stroke-width="1.75" fill="none"/>
<line x1="917.5" y1="104.8" x2="923.8" y2="104.8" stroke="#959595" stroke-width="1.57"/>
<line x1="917.5" y1="111.5" x2="923.8" y2="111.5" stroke="#959595" stroke-width="1.57"/>
<rect x="923.8" y="98" width="9.7" height="19.7" fill="#fff"/>
<rect x="923.8" y="98" width="9.7" height="19.7" stroke="#808080" stroke-width="1.75" fill="none"/>
<line x1="923.8" y1="102.6" x2="933.5" y2="102.6" stroke="#959595" stroke-width="1.63"/>
<line x1="923.8" y1="113.5" x2="933.5" y2="113.5" stroke="#959595" stroke-width="1.63"/>
<rect x="933.5" y="102.6" width="7.9" height="10.9" stroke="#1e1e1e" stroke-width="1.6" fill="none"/>
<line x1="941.4" y1="103" x2="982.5" y2="103" stroke="#808080" stroke-width="1.87"/>
<line x1="941.4" y1="113.2" x2="982.5" y2="113.2" stroke="#1e1e1e" stroke-width="1.8"/>
<rect x="982.5" y="102.6" width="6.7" height="10.9" stroke="#1e1e1e" stroke-width="1.6" fill="none"/>
<rect x="989.2" y="98" width="10.9" height="19.7" fill="#fff"/>
<rect x="989.2" y="98" width="10.9" height="19.7" stroke="#808080" stroke-width="1.75" fill="none"/>
<line x1="989.2" y1="102.6" x2="1000.1" y2="102.6" stroke="#959595" stroke-width="1.63"/>
<line x1="989.2" y1="113.5" x2="1000.1" y2="113.5" stroke="#959595" stroke-width="1.63"/>
<rect x="1000.1" y="102.6" width="6.7" height="10.9" stroke="#808080" stroke-width="1.75" fill="none"/>
<line x1="1000.1" y1="104.8" x2="1006.8" y2="104.8" stroke="#959595" stroke-width="1.57"/>
<line x1="1000.1" y1="111.5" x2="1006.8" y2="111.5" stroke="#959595" stroke-width="1.57"/>
<line x1="915" y1="107.6" x2="1009.3" y2="107.6" stroke="#959595" stroke-width="1.63" stroke-dasharray="10,3,2,3"/>
<rect x="934" y="370.2" width="17.5" height="16.3" stroke="#808080" stroke-width="1.75" fill="none"/>
<line x1="934" y1="371.4" x2="951.5" y2="371.4" stroke="#808080" stroke-width="1.63"/>
<line x1="934" y1="381.5" x2="951.5" y2="381.5" stroke="#808080" stroke-width="1.69"/>
<rect x="934" y="381.5" width="17.5" height="5" fill="url(#hb)"/>
<rect x="965.3" y="355.1" width="25.1" height="31.4" stroke="#808080" stroke-width="1.75" fill="none"/>
<rect x="965.3" y="355.1" width="25.1" height="15.1" fill="url(#hb)"/>
<line x1="965.3" y1="370.2" x2="990.4" y2="370.2" stroke="#808080" stroke-width="1.69"/>
<line x1="965.3" y1="371.4" x2="990.4" y2="371.4" stroke="#808080" stroke-width="1.63"/>
<line x1="965.3" y1="381.5" x2="990.4" y2="381.5" stroke="#808080" stroke-width="1.69"/>
<rect x="965.3" y="381.5" width="25.1" height="5" fill="url(#hb)"/>
<rect x="954" y="355" width="11.3" height="10.1" fill="url(#hf)"/>
<rect x="954" y="355" width="11.3" height="10.1" stroke="#808080" stroke-width="1.63" fill="none"/>
<rect x="999.2" y="355" width="11.3" height="11.4" stroke="#808080" stroke-width="1.69" fill="none"/>
<line x1="912" y1="375.2" x2="1002" y2="375.2" stroke="#959595" stroke-width="1.63" stroke-dasharray="10,3,2,3"/>
<line x1="915.2" y1="372.2" x2="921.2" y2="378.2" stroke="#808080" stroke-width="1.63"/>
<line x1="915.2" y1="378.2" x2="921.2" y2="372.2" stroke="#808080" stroke-width="1.63"/>
<line x1="992.5" y1="372.2" x2="998.5" y2="378.2" stroke="#808080" stroke-width="1.63"/>
<line x1="992.5" y1="378.2" x2="998.5" y2="372.2" stroke="#808080" stroke-width="1.63"/>
<path d="M951,352 L955.5,356 L951,359 Z" stroke="#111" stroke-width="0.6" fill="#111"/>
<path d="M933.7,124 L929.5,128 L933.7,131 Z" stroke="#111" stroke-width="0.6" fill="#111"/>
<rect x="911.3" y="84.2" width="105.4" height="53.9" stroke="#808080" stroke-width="1.75" fill="none"/>
<path d="M966.5,84.2 L980.8,57.7 L980.8,40.2" stroke="#808080" stroke-width="1.69" fill="none"/>
<line x1="985" y1="47.4" x2="994.3" y2="47.4" stroke="#808080" stroke-width="1.75"/>
<path d="M930.3,163.6 L941.3,163.6 A3.4,3.4 0 0 1 941.3,170.4 L930.3,170.4 Z" stroke="#262626" stroke-width="1.2" fill="#fff"/>
<line x1="937" y1="163.6" x2="937" y2="170.4" stroke="#959595" stroke-width="1.57"/>
<line x1="940.5" y1="163.6" x2="940.5" y2="170.4" stroke="#959595" stroke-width="1.57"/>
<path d="M930.3,219.2 L941.3,219.2 A3.95,3.95 0 0 1 941.3,227.1 L930.3,227.1 Z" stroke="#262626" stroke-width="1.2" fill="#fff"/>
<line x1="937" y1="219.2" x2="937" y2="227.1" stroke="#959595" stroke-width="1.57"/>
<line x1="940.5" y1="219.2" x2="940.5" y2="227.1" stroke="#959595" stroke-width="1.57"/>
<path d="M930.3,311.6 L941.3,311.6 A3.95,3.95 0 0 1 941.3,319.5 L930.3,319.5 Z" stroke="#262626" stroke-width="1.2" fill="#fff"/>
<line x1="937" y1="311.6" x2="937" y2="319.5" stroke="#959595" stroke-width="1.57"/>
<line x1="940.5" y1="311.6" x2="940.5" y2="319.5" stroke="#959595" stroke-width="1.57"/>
<path d="M966.9,338.5 L966.9,144.5 Q966.9,142.8 968.6,142.8 L1093.2,142.8" stroke="#808080" stroke-width="1.81" fill="none"/>
<line x1="967.6" y1="145.8" x2="1091.8" y2="145.8" stroke="#808080" stroke-width="1.75"/>
<line x1="966.9" y1="338.5" x2="1093.6" y2="338.5" stroke="#808080" stroke-width="2.29"/>
<line x1="1093.2" y1="132.2" x2="1093.2" y2="145.8" stroke="#808080" stroke-width="1.81"/>
<line x1="1093.2" y1="337.5" x2="1093.2" y2="384.6" stroke="#808080" stroke-width="2.11"/>
<line x1="1091.8" y1="145.8" x2="1091.8" y2="192.8" stroke="#808080" stroke-width="1.69"/>
<line x1="968.9" y1="191.6" x2="1091.8" y2="191.6" stroke="#808080" stroke-width="1.69"/>
<path d="M968.9,191.6 L975.4,189.9 L975.4,193.3 Z" fill="#1a1a1a"/>
<path d="M1091.8,191.6 L1085.3,193.3 L1085.3,189.9 Z" fill="#1a1a1a"/>
<line x1="1022.3" y1="132.2" x2="1022.3" y2="375" stroke="#808080" stroke-width="1.69"/>
<path d="M1022.3,132.7 L1024,139.2 L1020.6,139.2 Z" fill="#1a1a1a"/>
<path d="M1022.3,347 L1021,341 L1023.6,341 Z" fill="#1a1a1a"/>
<path d="M1022.3,359 L1023.6,365 L1021,365 Z" fill="#1a1a1a"/>
<line x1="1074.3" y1="145.6" x2="1074.3" y2="338" stroke="#808080" stroke-width="1.69"/>
<path d="M1074.3,146 L1076,152.5 L1072.6,152.5 Z" fill="#1a1a1a"/>
<path d="M1074.3,337.5 L1072.6,331 L1076,331 Z" fill="#1a1a1a"/>
<rect x="1012.1" y="182.2" width="19.6" height="9.1" fill="#111"/>
<rect x="657.4" y="124.2" width="81.6" height="3.4" stroke="#808080" stroke-width="1.75" fill="none"/>
<path d="M668.2,124.2 L668.2,38.9 L683.2,38.9 L730.2,72.8 L730.2,124.2" stroke="#808080" stroke-width="1.75" fill="none"/>
<rect x="664.9" y="38.9" width="3.3" height="51.5" stroke="#808080" stroke-width="1.69" fill="none"/>
<path d="M692.5,45.6 L692.5,23.3 L719.4,23.3 L719.4,65" stroke="#808080" stroke-width="1.75" fill="none"/>
<circle cx="705.8" cy="34.6" r="2.4" stroke="#333" stroke-width="0.9" fill="none"/>
<line x1="706.3" y1="20" x2="706.3" y2="91.6" stroke="#808080" stroke-width="1.69"/>
<line x1="668.2" y1="89.1" x2="706.3" y2="89.1" stroke="#808080" stroke-width="1.69"/>
<path d="M668.2,89.1 L674.7,87.4 L674.7,90.8 Z" fill="#1a1a1a"/>
<path d="M706.3,89.1 L699.8,90.8 L699.8,87.4 Z" fill="#1a1a1a"/>
<line x1="659.9" y1="55.2" x2="672.4" y2="55.2" stroke="#808080" stroke-width="1.63"/>
<rect x="657.5" y="354.5" width="81.3" height="4.4" stroke="#808080" stroke-width="1.75" fill="none"/>
<path d="M668.5,358.9 L668.5,443 L684.3,443 L730,411.6 L730,358.9" stroke="#808080" stroke-width="1.75" fill="none"/>
<rect x="665.5" y="411.6" width="3" height="31.4" stroke="#808080" stroke-width="1.69" fill="none"/>
<line x1="660" y1="427.9" x2="671.8" y2="427.9" stroke="#808080" stroke-width="1.63"/>
<path d="M757.9,354.5 L757.9,377.7 L818.6,377.7 L818.6,354.5" stroke="#808080" stroke-width="1.75" fill="none"/>
<line x1="757.9" y1="381.5" x2="818.6" y2="381.5" stroke="#808080" stroke-width="1.75"/>
<line x1="759.6" y1="375" x2="759.6" y2="384" stroke="#808080" stroke-width="1.63"/>
<line x1="814.9" y1="375" x2="814.9" y2="384" stroke="#808080" stroke-width="1.63"/>
<line x1="788" y1="345" x2="788" y2="387.2" stroke="#808080" stroke-width="1.69"/>
<line x1="256.5" y1="132.2" x2="256.5" y2="379.2" stroke="#808080" stroke-width="1.69"/>
<path d="M256.5,132.5 L258.2,139 L254.8,139 Z" fill="#1a1a1a"/>
<path d="M256.5,345.5 L255.2,339.5 L257.8,339.5 Z" fill="#1a1a1a"/>
<path d="M256.5,357.5 L257.8,363.5 L255.2,363.5 Z" fill="#1a1a1a"/>
<line x1="260.2" y1="334.5" x2="297" y2="334.5" stroke="#808080" stroke-width="1.69"/>
<path d="M273.8,334.5 L267.3,336.2 L267.3,332.8 Z" fill="#1a1a1a"/>
<path d="M284.3,334.5 L290.8,332.8 L290.8,336.2 Z" fill="#1a1a1a"/>
<line x1="273.8" y1="329" x2="273.8" y2="351.4" stroke="#808080" stroke-width="1.69"/>
<line x1="284.3" y1="329" x2="284.3" y2="351.4" stroke="#808080" stroke-width="1.69"/>
<line x1="119" y1="392.7" x2="178" y2="392.7" stroke="#808080" stroke-width="1.69"/>
<path d="M150.6,392.7 L144.1,394.4 L144.1,391 Z" fill="#1a1a1a"/>
<path d="M163.6,392.7 L170.1,391 L170.1,394.4 Z" fill="#1a1a1a"/>
<line x1="486.1" y1="132.2" x2="486.1" y2="379" stroke="#808080" stroke-width="1.69"/>
<path d="M486.1,135.2 L487.8,141.7 L484.4,141.7 Z" fill="#1a1a1a"/>
<path d="M486.1,346 L484.8,340 L487.4,340 Z" fill="#1a1a1a"/>
<path d="M486.1,359 L487.4,365 L484.8,365 Z" fill="#1a1a1a"/>
<line x1="91.9" y1="157.8" x2="126.7" y2="174.8" stroke="#808080" stroke-width="1.69"/>
<path d="M108.5,165.9 L102.99,164.65 L104.13,162.32 Z" fill="#1a1a1a"/>
<path d="M112.9,168 L118.41,169.25 L117.27,171.58 Z" fill="#1a1a1a"/>
<line x1="977.7" y1="324.1" x2="1011.5" y2="324.1" stroke="#808080" stroke-width="1.69"/>
<path d="M990.2,324.1 L983.7,325.8 L983.7,322.4 Z" fill="#1a1a1a"/>
<path d="M999,324.1 L1005.5,322.4 L1005.5,325.8 Z" fill="#1a1a1a"/>
<line x1="990.2" y1="318" x2="990.2" y2="351.4" stroke="#808080" stroke-width="1.69"/>
<line x1="999" y1="318" x2="999" y2="351.4" stroke="#808080" stroke-width="1.69"/>
<line x1="1072" y1="382.2" x2="1122.2" y2="382.2" stroke="#808080" stroke-width="1.69"/>
<path d="M1093,382.2 L1087,383.7 L1087,380.7 Z" fill="#1a1a1a"/>
<path d="M1093.6,382.2 L1099.6,380.7 L1099.6,383.7 Z" fill="#1a1a1a"/>
<path d="M1110.4,382.2 L1116.4,380.7 L1116.4,383.7 Z" fill="#1a1a1a"/>
<line x1="1131.8" y1="331.8" x2="1155" y2="364.3" stroke="#808080" stroke-width="1.69"/>
<path d="M1139.6,342.5 L1135.35,338.78 L1137.46,337.27 Z" fill="#1a1a1a"/>
<path d="M1143.8,348.5 L1148.05,352.22 L1145.94,353.73 Z" fill="#1a1a1a"/>
<line x1="1141" y1="214.3" x2="1141" y2="269.2" stroke="#808080" stroke-width="1.87"/>
<line x1="1143.2" y1="214.3" x2="1143.2" y2="269.2" stroke="#808080" stroke-width="1.87"/>
<line x1="1126.6" y1="214.3" x2="1141" y2="214.3" stroke="#808080" stroke-width="1.75"/>
<line x1="1126.6" y1="269.2" x2="1141" y2="269.2" stroke="#808080" stroke-width="1.75"/>
<line x1="1141.7" y1="214.3" x2="1168.8" y2="201.6" stroke="#808080" stroke-width="1.75"/>
<line x1="1143.2" y1="220.3" x2="1170.3" y2="207.8" stroke="#808080" stroke-width="1.75"/>
<line x1="1141.7" y1="267.5" x2="1168.8" y2="280.2" stroke="#808080" stroke-width="1.75"/>
<line x1="1143.2" y1="261.5" x2="1170.3" y2="274" stroke="#808080" stroke-width="1.75"/>
<line x1="1128.7" y1="214.3" x2="1128.7" y2="269.2" stroke="#808080" stroke-width="1.69"/>
<path d="M1128.7,214.6 L1130.4,221.1 L1127,221.1 Z" fill="#1a1a1a"/>
<path d="M1128.7,268.9 L1127,262.4 L1130.4,262.4 Z" fill="#1a1a1a"/>
<line x1="1143.2" y1="233.9" x2="1173.3" y2="233.9" stroke="#808080" stroke-width="1.69"/>
<path d="M1143.4,233.9 L1149.9,232.2 L1149.9,235.6 Z" fill="#1a1a1a"/>
<path d="M1173,233.9 L1166.5,235.6 L1166.5,232.2 Z" fill="#1a1a1a"/>
<line x1="1122" y1="289.7" x2="1155.2" y2="289.7" stroke="#808080" stroke-width="1.69"/>
<path d="M1141,289.7 L1134.5,291.4 L1134.5,288 Z" fill="#1a1a1a"/>
<path d="M1143.2,289.7 L1149.7,288 L1149.7,291.4 Z" fill="#1a1a1a"/>
<line x1="1155.5" y1="194.5" x2="1166.4" y2="221.7" stroke="#808080" stroke-width="1.69"/>
<path d="M1159.6,205 L1155.9,200.02 L1158.87,198.83 Z" fill="#1a1a1a"/>
<path d="M201.89,31.34 L202.69,30.90 L203.29,30.38 L203.68,29.80 L203.82,29.19 L203.73,28.59 L203.39,28.00 L202.83,27.47 L202.07,27.01 L201.15,26.64 L200.10,26.39 L198.98,26.26 L197.82,26.26 L196.70,26.39 L195.65,26.64 L194.73,27.01 L193.97,27.47 L193.41,28.00 L193.07,28.59 L192.98,29.19 L193.12,29.80 L193.51,30.38 L194.11,30.90 L194.91,31.34" stroke="#666666" stroke-width="1.2" fill="none" stroke-linecap="round" stroke-linejoin="round"/>
<path d="M418.26,20.90 L418.26,28.35 L418.26,28.35 L419.27,28.27 L420.24,28.02 L421.12,27.61 L421.87,27.06 L422.44,26.40 L422.83,25.66 L423.01,24.88 L422.97,24.08 L422.71,23.31 L422.25,22.59 L421.60,21.97 L420.80,21.48 L419.89,21.12 L418.90,20.93 L417.88,20.91 L416.87,21.06 L415.94,21.37 L415.10,21.84 L414.42,22.43 L413.91,23.12 L413.60,23.88 L413.50,24.68 L413.62,25.47 L413.96,26.23 L414.49,26.91 L415.20,27.48 M424.28,29.17 L425.06,29.47 L425.76,29.93 L426.33,30.53 L426.76,31.24 L427.02,32.02 L427.10,32.84 L426.99,33.65 L426.71,34.43 L426.25,35.12 L425.65,35.70 L424.94,36.13 L424.15,36.40 L423.31,36.50 L422.48,36.41 L421.68,36.15 L413.50,29.05 L413.50,36.50" stroke="#666666" stroke-width="1.2" fill="none" stroke-linecap="round" stroke-linejoin="round"/>
<path d="M862.38,27.55 L862.38,32.62 L862.38,32.62 L863.33,32.56 L864.25,32.39 L865.07,32.11 L865.77,31.74 L866.32,31.30 L866.68,30.79 L866.85,30.26 L866.81,29.72 L866.57,29.19 L866.13,28.71 L865.53,28.28 L864.77,27.95 L863.91,27.71 L862.98,27.58 L862.02,27.56 L861.08,27.66 L860.19,27.88 L859.41,28.19 L858.76,28.59 L858.28,29.06 L857.99,29.58 L857.90,30.12 L858.02,30.66 L858.33,31.18 L858.83,31.64 L859.50,32.03 M868.14,36.32 L870.70,37.85 L857.90,37.85" stroke="#666666" stroke-width="1.2" fill="none" stroke-linecap="round" stroke-linejoin="round"/>
<path d="M1080.25,31.46 L1065.75,31.46 M1070.83,38.94 L1071.88,38.86 L1072.89,38.62 L1073.81,38.23 L1074.60,37.70 L1075.22,37.07 L1075.65,36.36 L1075.87,35.59 L1075.87,34.81 L1075.65,34.04 L1075.22,33.33 L1074.60,32.70 L1073.81,32.17 L1072.89,31.78 L1071.88,31.54 L1070.83,31.46 L1069.77,31.54 L1068.76,31.78 L1067.84,32.17 L1067.05,32.70 L1066.43,33.33 L1066.00,34.04 L1065.78,34.81 L1065.78,35.59 L1066.00,36.36 L1066.43,37.07 L1067.05,37.70 L1067.84,38.23 L1068.76,38.62 L1069.77,38.86 L1070.83,38.94" stroke="#666666" stroke-width="1.2" fill="none" stroke-linecap="round" stroke-linejoin="round"/>
<path d="M24.30,243.49 L10.50,243.49 M15.33,243.49 L16.33,243.41 L17.29,243.16 L18.17,242.75 L18.92,242.20 L19.51,241.55 L19.92,240.80 L20.13,240.01 L20.13,239.19 L19.92,238.40 L19.51,237.65 L18.92,237.00 L18.17,236.45 L17.29,236.04 L16.33,235.79 L15.33,235.71 L14.33,235.79 L13.37,236.04 L12.49,236.45 L11.74,237.00 L11.15,237.65 L10.74,238.40 L10.53,239.19 L10.53,240.01 L10.74,240.80 L11.15,241.55 L11.74,242.20 L12.49,242.75 L13.37,243.16 L14.33,243.41 L15.33,243.49" stroke="#666666" stroke-width="1.2" fill="none" stroke-linecap="round" stroke-linejoin="round"/>
<path d="M1241.90,244.69 L1242.87,244.63 L1243.79,244.45 L1244.64,244.16 L1245.36,243.77 L1245.93,243.30 L1246.33,242.76 L1246.53,242.19 L1246.53,241.61 L1246.33,241.04 L1245.93,240.50 L1245.36,240.03 L1244.64,239.64 L1243.79,239.35 L1242.87,239.17 L1241.90,239.11 L1240.93,239.17 L1240.01,239.35 L1239.16,239.64 L1238.44,240.03 L1237.87,240.50 L1237.47,241.04 L1237.27,241.61 L1237.27,242.19 L1237.47,242.76 L1237.87,243.30 L1238.44,243.77 L1239.16,244.16 L1240.01,244.45 L1240.93,244.63 L1241.90,244.69 M1246.56,244.69 L1237.25,244.69" stroke="#666666" stroke-width="1.2" fill="none" stroke-linecap="round" stroke-linejoin="round"/>
<path d="M352.65,448.37 L353.30,447.55 L352.78,446.48 L350.96,445.90 L340.30,445.90 M349.40,444.25 L349.40,447.96 M350.60,449.49 L351.35,449.69 L352.02,449.99 L352.57,450.39 L352.98,450.86 L353.22,451.38 L353.30,451.92 L353.20,452.46 L352.92,452.97 L352.49,453.43 L351.92,453.82 L351.24,454.11 L350.48,454.29 L349.68,454.35 L348.88,454.29 L348.12,454.12 L340.30,449.40 L340.30,454.35" stroke="#666666" stroke-width="1.2" fill="none" stroke-linecap="round" stroke-linejoin="round"/>
<path d="M925.79,452.11 L926.35,451.02 L925.90,449.60 L924.32,448.83 L915.05,448.83 M922.96,446.65 L922.96,451.56 M924.09,454.78 L926.35,456.75 L915.05,456.75" stroke="#666666" stroke-width="1.2" fill="none" stroke-linecap="round" stroke-linejoin="round"/>
<path d="M984.95,47.40 L994.45,47.40" stroke="#666666" stroke-width="1.2" fill="none" stroke-linecap="round" stroke-linejoin="round"/>
<path d="M251.85,250.02 L251.36,250.08 L250.88,250.26 L250.45,250.55 L250.08,250.93 L249.79,251.40 L249.59,251.93 L249.48,252.49 L249.48,253.07 L249.59,253.64 L249.79,254.17 L250.08,254.63 L250.45,255.02 L250.88,255.31 L251.36,255.49 L251.85,255.55 L252.34,255.49 L252.82,255.31 L253.25,255.02 L253.62,254.63 L253.91,254.17 L254.11,253.64 L254.22,253.07 L254.22,252.49 L254.11,251.93 L253.91,251.40 L253.62,250.93 L253.25,250.55 L252.82,250.26 L252.34,250.08 L251.85,250.02 M254.57,255.55 L249.13,250.02 M254.23,243.74 L247.43,243.74 L252.19,247.89 L252.19,242.17 M250.83,234.51 L250.12,234.57 L249.45,234.75 L248.83,235.04 L248.30,235.43 L247.89,235.89 L247.60,236.42 L247.45,236.99 L247.45,237.57 L247.60,238.13 L247.89,238.66 L248.30,239.13 L248.83,239.52 L249.45,239.80 L250.12,239.98 L250.83,240.04 L251.54,239.98 L252.21,239.80 L252.83,239.52 L253.36,239.13 L253.77,238.66 L254.06,238.13 L254.21,237.57 L254.21,236.99 L254.06,236.42 L253.77,235.89 L253.36,235.43 L252.83,235.04 L252.21,234.75 L251.54,234.57 L250.83,234.51 M250.83,226.85 L250.12,226.91 L249.45,227.09 L248.83,227.38 L248.30,227.77 L247.89,228.23 L247.60,228.76 L247.45,229.33 L247.45,229.91 L247.60,230.47 L247.89,231.00 L248.30,231.47 L248.83,231.85 L249.45,232.14 L250.12,232.32 L250.83,232.38 L251.54,232.32 L252.21,232.14 L252.83,231.85 L253.36,231.47 L253.77,231.00 L254.06,230.47 L254.21,229.91 L254.21,229.33 L254.06,228.76 L253.77,228.23 L253.36,227.77 L252.83,227.38 L252.21,227.09 L251.54,226.91 L250.83,226.85" stroke="#666666" stroke-width="1.2" fill="none" stroke-linecap="round" stroke-linejoin="round"/>
<path d="M247.79,374.93 L247.46,375.86 L247.79,377.07 L249.13,378.01 L251.48,378.41 L252.15,378.41 M252.01,374.39 L251.57,374.43 L251.14,374.56 L250.75,374.77 L250.42,375.06 L250.16,375.39 L249.97,375.78 L249.88,376.19 L249.88,376.61 L249.97,377.02 L250.16,377.40 L250.42,377.74 L250.75,378.03 L251.14,378.24 L251.57,378.37 L252.01,378.41 L252.46,378.37 L252.88,378.24 L253.27,378.03 L253.61,377.74 L253.87,377.40 L254.05,377.02 L254.14,376.61 L254.14,376.19 L254.05,375.78 L253.87,375.39 L253.61,375.06 L253.27,374.77 L252.88,374.56 L252.46,374.43 L252.01,374.39" stroke="#666666" stroke-width="1.2" fill="none" stroke-linecap="round" stroke-linejoin="round"/>
<path d="M272.53,328.11 L272.72,327.72 L273.00,327.37 L273.37,327.08 L273.81,326.87 L274.30,326.74 L274.81,326.70 L275.32,326.75 L275.80,326.90 L276.23,327.12 L276.59,327.42 L276.86,327.78 L277.03,328.18 L277.09,328.59 L277.04,329.01 L276.87,329.41 L272.45,333.50 L277.09,333.50 M284.15,330.10 L284.10,329.39 L283.95,328.72 L283.71,328.10 L283.38,327.57 L282.99,327.16 L282.55,326.87 L282.07,326.72 L281.59,326.72 L281.11,326.87 L280.67,327.16 L280.28,327.57 L279.95,328.10 L279.71,328.72 L279.56,329.39 L279.51,330.10 L279.56,330.81 L279.71,331.48 L279.95,332.10 L280.28,332.63 L280.67,333.04 L281.11,333.33 L281.59,333.48 L282.07,333.48 L282.55,333.33 L282.99,333.04 L283.38,332.63 L283.71,332.10 L283.95,331.48 L284.10,330.81 L284.15,330.10" stroke="#666666" stroke-width="1.2" fill="none" stroke-linecap="round" stroke-linejoin="round"/>
<path d="M120.10,383.68 L120.34,383.10 L120.70,382.59 L121.17,382.16 L121.73,381.85 L122.35,381.66 L122.99,381.60 L123.64,381.68 L124.25,381.89 L124.79,382.22 L125.25,382.66 L125.59,383.19 L125.81,383.77 L125.88,384.38 L125.82,385.00 L125.61,385.58 L120.00,391.60 L125.88,391.60 M132.51,381.60 L127.91,381.60 L127.42,385.80 L128.38,385.60 L128.92,385.26 L129.52,385.06 L130.14,385.00 L130.76,385.09 L131.35,385.33 L131.88,385.70 L132.32,386.19 L132.67,386.77 L132.90,387.42 L133.00,388.11 L132.97,388.81 L132.81,389.49 L132.52,390.11 L132.13,390.65 L131.64,391.09 L131.08,391.40 L130.47,391.57 L129.85,391.59 L129.24,391.47 L128.66,391.20 L128.15,390.80 L127.72,390.29 L127.40,389.69" stroke="#666666" stroke-width="1.2" fill="none" stroke-linecap="round" stroke-linejoin="round"/>
<path d="M480.85,249.91 L480.36,249.97 L479.88,250.14 L479.45,250.42 L479.08,250.79 L478.79,251.24 L478.59,251.75 L478.48,252.30 L478.48,252.86 L478.59,253.41 L478.79,253.91 L479.08,254.37 L479.45,254.74 L479.88,255.02 L480.36,255.19 L480.85,255.25 L481.34,255.19 L481.82,255.02 L482.25,254.74 L482.62,254.37 L482.91,253.91 L483.11,253.41 L483.22,252.86 L483.22,252.30 L483.11,251.75 L482.91,251.24 L482.62,250.79 L482.25,250.42 L481.82,250.14 L481.34,249.97 L480.85,249.91 M483.57,255.25 L478.13,249.91 M483.23,243.85 L476.43,243.85 L481.19,247.86 L481.19,242.34 M479.83,234.94 L479.12,235.00 L478.45,235.17 L477.83,235.45 L477.30,235.83 L476.89,236.28 L476.60,236.79 L476.45,237.33 L476.45,237.89 L476.60,238.44 L476.89,238.95 L477.30,239.40 L477.83,239.77 L478.45,240.05 L479.12,240.23 L479.83,240.28 L480.54,240.23 L481.21,240.05 L481.83,239.77 L482.36,239.40 L482.77,238.95 L483.06,238.44 L483.21,237.89 L483.21,237.33 L483.06,236.79 L482.77,236.28 L482.36,235.83 L481.83,235.45 L481.21,235.17 L480.54,235.00 L479.83,234.94 M479.83,227.55 L479.12,227.61 L478.45,227.78 L477.83,228.06 L477.30,228.43 L476.89,228.89 L476.60,229.39 L476.45,229.94 L476.45,230.50 L476.60,231.05 L476.89,231.56 L477.30,232.01 L477.83,232.38 L478.45,232.66 L479.12,232.83 L479.83,232.89 L480.54,232.83 L481.21,232.66 L481.83,232.38 L482.36,232.01 L482.77,231.56 L483.06,231.05 L483.21,230.50 L483.21,229.94 L483.06,229.39 L482.77,228.89 L482.36,228.43 L481.83,228.06 L481.21,227.78 L480.54,227.61 L479.83,227.55" stroke="#666666" stroke-width="1.2" fill="none" stroke-linecap="round" stroke-linejoin="round"/>
<path d="M477.75,374.64 L477.38,374.68 L477.02,374.80 L476.69,374.98 L476.41,375.23 L476.19,375.52 L476.04,375.86 L475.96,376.22 L475.96,376.58 L476.04,376.94 L476.19,377.28 L476.41,377.57 L476.69,377.82 L477.02,378.00 L477.38,378.12 L477.75,378.15 L478.12,378.12 L478.48,378.00 L478.81,377.82 L479.09,377.57 L479.31,377.28 L479.46,376.94 L479.54,376.58 L479.54,376.22 L479.46,375.86 L479.31,375.52 L479.09,375.23 L478.81,374.98 L478.48,374.80 L478.12,374.68 L477.75,374.64 M481.43,374.38 L481.00,374.42 L480.60,374.55 L480.24,374.76 L479.92,375.05 L479.67,375.39 L479.50,375.77 L479.41,376.19 L479.41,376.61 L479.50,377.03 L479.67,377.41 L479.92,377.75 L480.24,378.04 L480.60,378.25 L481.00,378.38 L481.43,378.42 L481.85,378.38 L482.25,378.25 L482.62,378.04 L482.93,377.75 L483.18,377.41 L483.35,377.03 L483.44,376.61 L483.44,376.19 L483.35,375.77 L483.18,375.39 L482.93,375.05 L482.62,374.76 L482.25,374.55 L481.85,374.42 L481.43,374.38" stroke="#666666" stroke-width="1.2" fill="none" stroke-linecap="round" stroke-linejoin="round"/>
<path d="M684.17,82.05 L684.13,81.68 L684.00,81.32 L683.80,80.99 L683.53,80.71 L683.20,80.49 L682.83,80.34 L682.44,80.26 L682.03,80.26 L681.64,80.34 L681.27,80.49 L680.94,80.71 L680.67,80.99 L680.47,81.32 L680.34,81.68 L680.30,82.05 L680.34,82.42 L680.47,82.78 L680.67,83.11 L680.94,83.39 L681.27,83.61 L681.64,83.76 L682.03,83.84 L682.44,83.84 L682.83,83.76 L683.20,83.61 L683.53,83.39 L683.80,83.11 L684.00,82.78 L684.13,82.42 L684.17,82.05 M684.47,85.73 L684.42,85.30 L684.28,84.90 L684.04,84.54 L683.73,84.22 L683.35,83.97 L682.92,83.80 L682.47,83.71 L682.00,83.71 L681.54,83.80 L681.12,83.97 L680.74,84.22 L680.43,84.54 L680.19,84.90 L680.05,85.30 L680.00,85.73 L680.05,86.15 L680.19,86.55 L680.43,86.92 L680.74,87.23 L681.12,87.48 L681.54,87.65 L682.00,87.74 L682.47,87.74 L682.92,87.65 L683.35,87.48 L683.73,87.23 L684.04,86.92 L684.28,86.55 L684.42,86.15 L684.47,85.73 M690.80,84.00 L690.75,83.22 L690.61,82.48 L690.37,81.80 L690.06,81.21 L689.68,80.75 L689.26,80.43 L688.80,80.27 L688.33,80.27 L687.88,80.43 L687.45,80.75 L687.07,81.21 L686.76,81.80 L686.52,82.48 L686.38,83.22 L686.33,84.00 L686.38,84.78 L686.52,85.53 L686.76,86.20 L687.07,86.79 L687.45,87.25 L687.88,87.57 L688.33,87.73 L688.80,87.73 L689.26,87.57 L689.68,87.25 L690.06,86.79 L690.37,86.20 L690.61,85.53 L690.75,84.78 L690.80,84.00" stroke="#666666" stroke-width="1.2" fill="none" stroke-linecap="round" stroke-linejoin="round"/>
<path d="M1017.79,275.33 L1017.33,275.38 L1016.89,275.53 L1016.49,275.78 L1016.15,276.11 L1015.88,276.51 L1015.69,276.96 L1015.59,277.44 L1015.59,277.94 L1015.69,278.42 L1015.88,278.87 L1016.15,279.27 L1016.49,279.60 L1016.89,279.85 L1017.33,280.00 L1017.79,280.05 L1018.25,280.00 L1018.68,279.85 L1019.08,279.60 L1019.43,279.27 L1019.70,278.87 L1019.88,278.42 L1019.98,277.94 L1019.98,277.44 L1019.88,276.96 L1019.70,276.51 L1019.43,276.11 L1019.08,275.78 L1018.68,275.53 L1018.25,275.38 L1017.79,275.33 M1020.31,280.05 L1015.27,275.33 M1019.99,269.97 L1013.69,269.97 L1018.10,273.51 L1018.10,268.63 M1016.84,262.09 L1016.19,262.14 L1015.56,262.29 L1014.99,262.54 L1014.50,262.87 L1014.11,263.27 L1013.85,263.72 L1013.71,264.20 L1013.71,264.70 L1013.85,265.18 L1014.11,265.63 L1014.50,266.03 L1014.99,266.36 L1015.56,266.61 L1016.19,266.76 L1016.84,266.81 L1017.50,266.76 L1018.12,266.61 L1018.69,266.36 L1019.18,266.03 L1019.57,265.63 L1019.84,265.18 L1019.98,264.70 L1019.98,264.20 L1019.84,263.72 L1019.57,263.27 L1019.18,262.87 L1018.69,262.54 L1018.12,262.29 L1017.50,262.14 L1016.84,262.09 M1016.84,255.55 L1016.19,255.60 L1015.56,255.75 L1014.99,256.00 L1014.50,256.33 L1014.11,256.73 L1013.85,257.18 L1013.71,257.66 L1013.71,258.16 L1013.85,258.64 L1014.11,259.09 L1014.50,259.49 L1014.99,259.82 L1015.56,260.07 L1016.19,260.22 L1016.84,260.27 L1017.50,260.22 L1018.12,260.07 L1018.69,259.82 L1019.18,259.49 L1019.57,259.09 L1019.84,258.64 L1019.98,258.16 L1019.98,257.66 L1019.84,257.18 L1019.57,256.73 L1019.18,256.33 L1018.69,256.00 L1018.12,255.75 L1017.50,255.60 L1016.84,255.55" stroke="#666666" stroke-width="1.2" fill="none" stroke-linecap="round" stroke-linejoin="round"/>
<path d="M1069.88,264.02 L1069.37,264.08 L1068.88,264.24 L1068.43,264.50 L1068.05,264.86 L1067.75,265.28 L1067.54,265.76 L1067.44,266.27 L1067.44,266.80 L1067.54,267.31 L1067.75,267.79 L1068.05,268.22 L1068.43,268.57 L1068.88,268.83 L1069.37,269.00 L1069.88,269.05 L1070.38,269.00 L1070.87,268.83 L1071.32,268.57 L1071.70,268.22 L1072.00,267.79 L1072.21,267.31 L1072.31,266.80 L1072.31,266.27 L1072.21,265.76 L1072.00,265.28 L1071.70,264.86 L1071.32,264.50 L1070.87,264.24 L1070.38,264.08 L1069.88,264.02 M1072.67,269.05 L1067.08,264.02 M1066.43,261.70 L1066.10,261.49 L1065.82,261.18 L1065.59,260.79 L1065.43,260.35 L1065.34,259.87 L1065.33,259.38 L1065.40,258.90 L1065.55,258.45 L1065.77,258.05 L1066.04,257.73 L1066.36,257.49 L1066.71,257.35 L1067.08,257.32 L1067.44,257.39 L1067.78,257.57 L1068.08,257.85 L1068.34,258.20 L1068.53,258.62 L1068.65,259.09 L1068.68,259.58 L1068.55,259.58 L1068.59,259.05 L1068.72,258.54 L1068.92,258.08 L1069.20,257.68 L1069.53,257.38 L1069.90,257.17 L1070.29,257.07 L1070.70,257.09 L1071.09,257.22 L1071.45,257.46 L1071.77,257.79 L1072.02,258.21 L1072.20,258.69 L1072.30,259.21 L1072.32,259.74 L1072.25,260.27 L1072.10,260.77 L1071.87,261.21 L1071.58,261.58 L1071.23,261.86 M1065.33,250.53 L1065.33,254.46 L1068.27,254.88 L1068.12,254.06 L1067.89,253.60 L1067.74,253.09 L1067.71,252.55 L1067.77,252.03 L1067.94,251.52 L1068.20,251.07 L1068.54,250.69 L1068.94,250.39 L1069.40,250.20 L1069.88,250.11 L1070.37,250.14 L1070.85,250.28 L1071.28,250.52 L1071.66,250.86 L1071.97,251.27 L1072.18,251.75 L1072.30,252.27 L1072.32,252.80 L1072.23,253.33 L1072.05,253.82 L1071.77,254.26 L1071.41,254.62 L1070.99,254.90 M1068.83,243.15 L1068.10,243.20 L1067.40,243.37 L1066.77,243.63 L1066.22,243.98 L1065.79,244.41 L1065.50,244.89 L1065.34,245.40 L1065.34,245.93 L1065.50,246.44 L1065.79,246.92 L1066.22,247.34 L1066.77,247.70 L1067.40,247.96 L1068.10,248.12 L1068.83,248.18 L1069.55,248.12 L1070.25,247.96 L1070.88,247.70 L1071.43,247.34 L1071.86,246.92 L1072.15,246.44 L1072.31,245.93 L1072.31,245.40 L1072.15,244.89 L1071.86,244.41 L1071.43,243.98 L1070.88,243.63 L1070.25,243.37 L1069.55,243.20 L1068.83,243.15" stroke="#666666" stroke-width="1.2" fill="none" stroke-linecap="round" stroke-linejoin="round"/>
<path d="M990.27,316.99 L990.43,316.58 L990.67,316.21 L990.99,315.91 L991.37,315.68 L991.78,315.54 L992.22,315.50 L992.65,315.56 L993.06,315.71 L993.43,315.95 L993.74,316.27 L993.97,316.64 L994.12,317.06 L994.17,317.50 L994.12,317.95 L993.98,318.37 L990.20,322.70 L994.17,322.70 M1000.20,319.10 L1000.16,318.35 L1000.03,317.64 L999.82,316.98 L999.54,316.42 L999.21,315.98 L998.83,315.68 L998.42,315.52 L998.01,315.52 L997.60,315.68 L997.22,315.98 L996.89,316.42 L996.61,316.98 L996.40,317.64 L996.28,318.35 L996.23,319.10 L996.28,319.85 L996.40,320.56 L996.61,321.22 L996.89,321.78 L997.22,322.22 L997.60,322.52 L998.01,322.68 L998.42,322.68 L998.83,322.52 L999.21,322.22 L999.54,321.78 L999.82,321.22 L1000.03,320.56 L1000.16,319.85 L1000.20,319.10" stroke="#666666" stroke-width="1.2" fill="none" stroke-linecap="round" stroke-linejoin="round"/>
<path d="M1017.07,370.61 L1016.76,371.50 L1017.07,372.63 L1018.33,373.51 L1020.54,373.89 L1021.17,373.89 M1021.04,370.11 L1020.62,370.15 L1020.22,370.27 L1019.85,370.47 L1019.54,370.74 L1019.29,371.06 L1019.12,371.42 L1019.03,371.80 L1019.03,372.20 L1019.12,372.58 L1019.29,372.94 L1019.54,373.26 L1019.85,373.53 L1020.22,373.73 L1020.62,373.85 L1021.04,373.89 L1021.46,373.85 L1021.86,373.73 L1022.22,373.53 L1022.54,373.26 L1022.79,372.94 L1022.96,372.58 L1023.04,372.20 L1023.04,371.80 L1022.96,371.42 L1022.79,371.06 L1022.54,370.74 L1022.22,370.47 L1021.86,370.27 L1021.46,370.15 L1021.04,370.11" stroke="#666666" stroke-width="1.2" fill="none" stroke-linecap="round" stroke-linejoin="round"/>
<path d="M1075.85,379.70 L1075.85,373.90 L1073.76,377.96 L1076.64,377.96" stroke="#666666" stroke-width="1.2" fill="none" stroke-linecap="round" stroke-linejoin="round"/>
<path d="M1097.28,374.98 L1097.46,374.69 L1097.73,374.43 L1098.05,374.23 L1098.43,374.09 L1098.83,374.01 L1099.25,374.00 L1099.66,374.07 L1100.04,374.20 L1100.38,374.39 L1100.65,374.63 L1100.85,374.92 L1100.97,375.23 L1101.00,375.55 L1100.93,375.87 L1100.78,376.17 L1100.55,376.44 L1100.25,376.67 L1099.89,376.84 L1099.50,376.94 L1099.08,376.97 L1099.08,376.85 L1099.53,376.89 L1099.97,377.00 L1100.36,377.18 L1100.69,377.43 L1100.95,377.72 L1101.12,378.05 L1101.21,378.40 L1101.19,378.76 L1101.08,379.10 L1100.88,379.42 L1100.59,379.70 L1100.24,379.93 L1099.84,380.09 L1099.40,380.18 L1098.94,380.20 L1098.49,380.13 L1098.07,380.00 L1097.70,379.80 L1097.39,379.54 L1097.15,379.23 M1107.25,377.10 L1107.20,376.45 L1107.07,375.84 L1106.84,375.28 L1106.54,374.80 L1106.18,374.41 L1105.78,374.15 L1105.34,374.02 L1104.90,374.02 L1104.46,374.15 L1104.05,374.41 L1103.69,374.80 L1103.40,375.28 L1103.17,375.84 L1103.03,376.45 L1102.99,377.10 L1103.03,377.74 L1103.17,378.36 L1103.40,378.92 L1103.69,379.40 L1104.05,379.78 L1104.46,380.05 L1104.90,380.18 L1105.34,380.18 L1105.78,380.05 L1106.18,379.78 L1106.54,379.40 L1106.84,378.92 L1107.07,378.36 L1107.20,377.74 L1107.25,377.10" stroke="#666666" stroke-width="1.2" fill="none" stroke-linecap="round" stroke-linejoin="round"/>
<path d="M1156.59,226.16 L1155.42,225.76 L1153.92,226.16 L1152.75,227.78 L1152.25,230.62 L1152.25,231.43 M1157.26,231.27 L1157.20,230.73 L1157.04,230.21 L1156.78,229.74 L1156.43,229.34 L1156.01,229.02 L1155.53,228.80 L1155.02,228.69 L1154.49,228.69 L1153.98,228.80 L1153.50,229.02 L1153.08,229.34 L1152.73,229.74 L1152.47,230.21 L1152.30,230.73 L1152.25,231.27 L1152.30,231.80 L1152.47,232.32 L1152.73,232.79 L1153.08,233.19 L1153.50,233.51 L1153.98,233.73 L1154.49,233.84 L1155.02,233.84 L1155.53,233.73 L1156.01,233.51 L1156.43,233.19 L1156.78,232.79 L1157.04,232.32 L1157.20,231.80 L1157.26,231.27 M1164.35,229.81 L1164.30,228.97 L1164.13,228.16 L1163.87,227.43 L1163.52,226.80 L1163.10,226.30 L1162.62,225.96 L1162.11,225.78 L1161.58,225.78 L1161.07,225.96 L1160.59,226.30 L1160.17,226.80 L1159.82,227.43 L1159.56,228.16 L1159.40,228.97 L1159.34,229.81 L1159.40,230.65 L1159.56,231.45 L1159.82,232.19 L1160.17,232.82 L1160.59,233.31 L1161.07,233.66 L1161.58,233.83 L1162.11,233.83 L1162.62,233.66 L1163.10,233.31 L1163.52,232.82 L1163.87,232.19 L1164.13,231.45 L1164.30,230.65 L1164.35,229.81" stroke="#666666" stroke-width="1.2" fill="none" stroke-linecap="round" stroke-linejoin="round"/>
<path d="M1124.35,246.96 L1123.91,247.00 L1123.50,247.12 L1123.12,247.30 L1122.79,247.55 L1122.53,247.86 L1122.35,248.20 L1122.26,248.57 L1122.26,248.94 L1122.35,249.31 L1122.53,249.65 L1122.79,249.96 L1123.12,250.21 L1123.50,250.39 L1123.91,250.51 L1124.35,250.55 L1124.79,250.51 L1125.20,250.39 L1125.58,250.21 L1125.91,249.96 L1126.17,249.65 L1126.35,249.31 L1126.44,248.94 L1126.44,248.57 L1126.35,248.20 L1126.17,247.86 L1125.91,247.55 L1125.58,247.30 L1125.20,247.12 L1124.79,247.00 L1124.35,246.96 M1126.75,250.55 L1121.95,246.96 M1121.65,245.00 L1120.45,243.92 L1126.45,243.92 M1123.45,237.29 L1122.83,237.33 L1122.23,237.44 L1121.69,237.63 L1121.22,237.88 L1120.85,238.18 L1120.60,238.53 L1120.47,238.89 L1120.47,239.27 L1120.60,239.64 L1120.85,239.98 L1121.22,240.28 L1121.69,240.53 L1122.23,240.72 L1122.83,240.84 L1123.45,240.88 L1124.07,240.84 L1124.67,240.72 L1125.21,240.53 L1125.68,240.28 L1126.05,239.98 L1126.30,239.64 L1126.43,239.27 L1126.43,238.89 L1126.30,238.53 L1126.05,238.18 L1125.68,237.88 L1125.21,237.63 L1124.67,237.44 L1124.07,237.33 L1123.45,237.29 M1123.45,232.45 L1122.83,232.49 L1122.23,232.61 L1121.69,232.79 L1121.22,233.04 L1120.85,233.35 L1120.60,233.69 L1120.47,234.06 L1120.47,234.43 L1120.60,234.80 L1120.85,235.14 L1121.22,235.45 L1121.69,235.70 L1122.23,235.88 L1122.83,236.00 L1123.45,236.04 L1124.07,236.00 L1124.67,235.88 L1125.21,235.70 L1125.68,235.45 L1126.05,235.14 L1126.30,234.80 L1126.43,234.43 L1126.43,234.06 L1126.30,233.69 L1126.05,233.35 L1125.68,233.04 L1125.21,232.79 L1124.67,232.61 L1124.07,232.49 L1123.45,232.45" stroke="#666666" stroke-width="1.2" fill="none" stroke-linecap="round" stroke-linejoin="round"/>
<path d="M1124.10,286.70 L1124.10,280.70 L1122.48,284.90 L1124.72,284.90" stroke="#666666" stroke-width="1.2" fill="none" stroke-linecap="round" stroke-linejoin="round"/>
<path d="M95.01,154.05 L94.72,153.54 L94.34,153.08 L93.91,152.72 L93.43,152.45 L92.94,152.30 L92.44,152.26 L91.96,152.35 L91.53,152.55 L91.16,152.86 L90.87,153.26 L90.67,153.74 L90.57,154.28 L90.57,154.84 L90.67,155.42 L90.88,155.98 L91.18,156.49 L91.55,156.95 L91.98,157.31 L92.46,157.58 L92.96,157.73 L93.45,157.77 L93.93,157.68 L94.36,157.48 L94.73,157.17 L95.02,156.77 L95.22,156.29 L95.33,155.75 L95.32,155.19 L95.22,154.61 L95.01,154.05 M91.74,152.43 L89.34,151.24 L89.18,149.64 L90.40,148.66 L92.06,148.62" stroke="#666666" stroke-width="1.2" fill="none" stroke-linecap="round" stroke-linejoin="round"/>
<path d="M1159.57,364.27 L1159.83,363.74 L1159.98,363.17 L1160.03,362.61 L1159.98,362.06 L1159.82,361.57 L1159.56,361.14 L1159.22,360.80 L1158.81,360.56 L1158.34,360.43 L1157.85,360.43 L1157.34,360.54 L1156.84,360.76 L1156.37,361.09 L1155.96,361.51 L1155.62,361.99 L1155.37,362.53 L1155.22,363.10 L1155.16,363.66 L1155.22,364.21 L1155.38,364.70 L1155.63,365.13 L1155.98,365.47 L1156.39,365.71 L1156.85,365.83 L1157.35,365.84 L1157.86,365.73 L1158.36,365.51 L1158.82,365.18 L1159.23,364.76 L1159.57,364.27 M1159.02,360.67 L1158.62,358.02 L1159.84,356.97 L1161.35,357.40 L1162.33,358.74" stroke="#666666" stroke-width="1.2" fill="none" stroke-linecap="round" stroke-linejoin="round"/>
<path d="M1150.43,168.33 L1151.89,168.96 L1146.44,170.94 M1151.58,176.58 L1152.14,176.34 L1152.64,176.03 L1153.07,175.67 L1153.40,175.28 L1153.63,174.87 L1153.75,174.46 L1153.74,174.07 L1153.61,173.71 L1153.36,173.40 L1153.01,173.16 L1152.57,173.00 L1152.06,172.91 L1151.50,172.91 L1150.92,173.00 L1150.34,173.17 L1149.79,173.41 L1149.29,173.72 L1148.86,174.08 L1148.52,174.47 L1148.29,174.88 L1148.18,175.29 L1148.19,175.68 L1148.32,176.04 L1148.56,176.34 L1148.91,176.59 L1149.35,176.75 L1149.86,176.84 L1150.42,176.84 L1151.00,176.75 L1151.58,176.58 M1153.75,177.57 L1154.11,177.60 L1154.47,177.71 L1154.80,177.90 L1155.09,178.16 L1155.32,178.48 L1155.49,178.84 L1155.58,179.23 L1155.60,179.62 L1155.53,180.01 L1155.39,180.36 L1155.17,180.66 L1154.90,180.90 L1154.58,181.07 L1154.23,181.15 L1153.87,181.15 L1149.41,179.09 L1150.65,182.50 M1151.20,184.02 L1157.89,185.44 M1156.65,182.03 L1152.44,187.43 M1153.93,191.50 L1159.38,189.52 L1154.63,188.35 L1155.91,191.87" stroke="#666666" stroke-width="1.05" fill="none" stroke-linecap="round" stroke-linejoin="round"/>
<path d="M1139.72,175.18 L1140.03,175.19 L1140.33,175.27 L1140.61,175.41 L1140.86,175.61 L1141.06,175.86 L1141.21,176.15 L1141.29,176.46 L1141.31,176.77 L1141.26,177.09 L1141.15,177.38 L1140.98,177.63 L1140.76,177.84 L1140.50,177.99 L1140.21,178.08 L1139.90,178.10 L1139.60,178.05 L1139.31,177.93 L1139.04,177.75 L1138.82,177.52 L1138.65,177.25 L1138.76,177.20 L1138.88,177.53 L1138.93,177.87 L1138.91,178.22 L1138.82,178.55 L1138.66,178.85 L1138.44,179.10 L1138.17,179.30 L1137.87,179.44 L1137.54,179.51 L1137.20,179.50 L1136.87,179.42 L1136.56,179.26 L1136.29,179.05 L1136.06,178.78 L1135.90,178.47 L1135.80,178.14 L1135.77,177.79 L1135.81,177.45 L1135.93,177.13 L1136.10,176.84 M1143.83,182.84 L1139.66,184.87 M1142.55,182.86 L1143.99,185.81 M1140.46,183.87 L1141.90,186.82 M1144.95,183.81 L1139.74,186.36 M1144.79,184.81 L1140.62,186.84 M1145.91,187.10 L1141.74,189.13 M1144.63,187.12 L1146.07,190.07 M1142.54,188.13 L1143.98,191.08 M1147.03,188.08 L1141.82,190.62 M1146.87,189.07 L1142.70,191.10 M1147.99,191.36 L1143.82,193.40 M1146.71,191.38 L1148.15,194.33 M1144.62,192.40 L1146.06,195.35 M1149.11,192.34 L1143.90,194.88 M1148.95,193.33 L1144.78,195.36" stroke="#666666" stroke-width="1.05" fill="none" stroke-linecap="round" stroke-linejoin="round"/>
</g>
<g stroke="#151515" fill="none" stroke-width="1.4" stroke-linecap="round"><rect x="596.4" y="497.4" width="23" height="24" rx="1.6"/><path d="M604.2,498.9 Q602.2,502.6 599.4,505.4 M602.6,501.7 L613.9,501.9 Q608.5,507.6 599.4,511.4 M603.4,504.6 Q610,509.2 616.5,511.4 M605.4,511.9 L611.6,514.1 M603.1,515.2 L612.6,519"/></g>
<path d="M628.3,499.2 L630.4,499.2 L630.4,517.6 L633.3,517.7 L633.3,518.7 L625.1,518.7 L625.1,517.7 L628.3,517.6 L628.3,501.0 L625.6,502.1 L625.3,501.5 Z" fill="#151515"/></svg>
</body></html>
